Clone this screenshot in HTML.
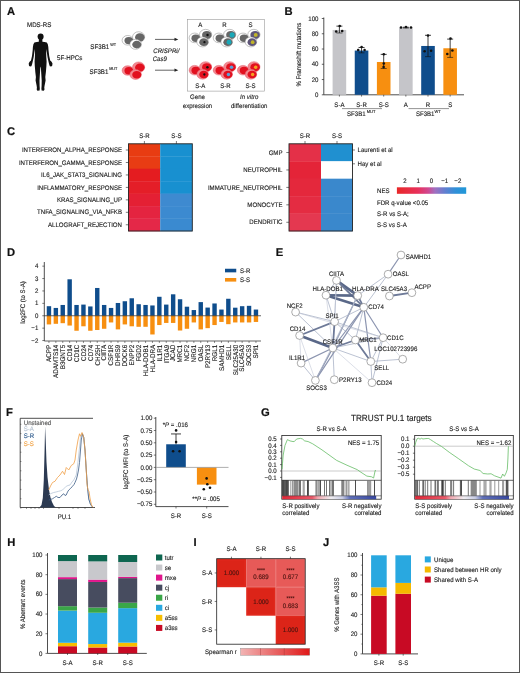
<!DOCTYPE html>
<html><head><meta charset="utf-8"><style>
html,body{margin:0;padding:0;background:#fff;}
body{width:520px;height:673px;overflow:hidden;}
svg{display:block;will-change:transform;}
text{font-family:"Liberation Sans", sans-serif;text-rendering:geometricPrecision;}
</style></head><body>
<svg width="520" height="673" viewBox="0 0 520 673" font-family='"Liberation Sans", sans-serif'>
<rect x="0" y="0" width="520" height="673" fill="#fff"/>
<text x="7.00" y="14.50"  font-size="11.20" text-anchor="start" fill="#111" stroke="#111" stroke-width="0.2" font-weight="bold" font-style="normal" >A</text>
<text x="0.00" y="0.00" transform="translate(39.20,27.00) scale(0.925,1)" font-size="6.70" text-anchor="middle" fill="#222" stroke="#222" stroke-width="0.13" font-weight="normal" font-style="normal" >MDS-RS</text>
<g fill="#111">
<ellipse cx="40.6" cy="36.6" rx="3.0" ry="3.2"/>
<path d="M42.30,39.00 L42.40,41.80 L44.50,42.10 L46.80,42.40 L47.80,44.20 L48.30,47.00 L48.50,50.00 L49.20,56.00 L50.20,60.50 L51.60,61.80 L52.50,63.60 L52.20,65.80 L51.20,66.50 L49.80,66.20 L49.20,64.50 L48.70,62.50 L47.50,57.00 L46.80,52.00 L46.40,49.00 L46.20,53.00 L46.30,57.00 L46.60,61.50 L46.40,66.00 L45.90,72.00 L45.30,77.00 L45.60,80.50 L44.60,85.60 L44.30,87.50 L44.50,89.60 L43.80,90.70 L41.60,90.60 L41.40,88.50 L41.60,86.00 L41.70,80.50 L41.30,74.00 L40.90,68.00 L40.60,66.40 L40.30,68.00 L39.90,74.00 L39.50,80.50 L39.60,86.00 L39.80,88.50 L39.60,90.60 L37.40,90.70 L36.70,89.60 L36.90,87.50 L36.60,85.60 L35.60,80.50 L35.90,77.00 L35.30,72.00 L34.80,66.00 L34.60,61.50 L34.90,57.00 L35.00,53.00 L34.80,49.00 L34.40,52.00 L33.70,57.00 L32.50,62.50 L32.00,64.50 L31.40,66.20 L30.00,66.50 L29.00,65.80 L28.70,63.60 L29.60,61.80 L31.00,60.50 L32.00,56.00 L32.70,50.00 L32.90,47.00 L33.40,44.20 L34.40,42.40 L36.70,42.10 L38.80,41.80 L38.90,39.00 Z"/>
</g>
<text x="0.00" y="0.00" transform="translate(57.00,60.00) scale(0.925,1)" font-size="6.70" text-anchor="start" fill="#222" stroke="#222" stroke-width="0.13" font-weight="normal" font-style="normal" >5F-HPCs</text>
<text x="0.00" y="0.00" transform="translate(90.30,49.30) scale(0.925,1)" font-size="6.70" text-anchor="start" fill="#222" stroke="#222" stroke-width="0.13" font-weight="normal" font-style="normal" >SF3B1</text>
<text x="0.00" y="0.00" transform="translate(110.30,45.60) scale(0.925,1)" font-size="4.10" text-anchor="start" fill="#222" stroke="#222" stroke-width="0.13" font-weight="normal" font-style="normal" >WT</text>
<text x="0.00" y="0.00" transform="translate(89.50,73.60) scale(0.925,1)" font-size="6.70" text-anchor="start" fill="#222" stroke="#222" stroke-width="0.13" font-weight="normal" font-style="normal" >SF3B1</text>
<text x="0.00" y="0.00" transform="translate(109.20,69.60) scale(0.925,1)" font-size="4.10" text-anchor="start" fill="#222" stroke="#222" stroke-width="0.13" font-weight="normal" font-style="normal" >MUT</text>
<ellipse cx="127.70" cy="40.30" rx="5.60" ry="4.82" fill="#ffffff" stroke="#777777" stroke-width="0.45"/>
<ellipse cx="128.82" cy="40.58" rx="4.37" ry="3.70" fill="#666666"/>
<ellipse cx="138.60" cy="37.00" rx="6.10" ry="5.25" fill="#ffffff" stroke="#777777" stroke-width="0.45"/>
<ellipse cx="139.82" cy="37.30" rx="4.76" ry="4.03" fill="#666666"/>
<ellipse cx="135.60" cy="44.30" rx="5.80" ry="4.99" fill="#ffffff" stroke="#777777" stroke-width="0.45"/>
<ellipse cx="136.76" cy="44.59" rx="4.52" ry="3.83" fill="#666666"/>
<ellipse cx="127.70" cy="70.50" rx="5.60" ry="4.82" fill="#f28890" stroke="#e05060" stroke-width="0.45"/>
<ellipse cx="128.82" cy="70.78" rx="4.37" ry="3.70" fill="#e2101f"/>
<ellipse cx="138.60" cy="67.20" rx="6.10" ry="5.25" fill="#f28890" stroke="#e05060" stroke-width="0.45"/>
<ellipse cx="139.82" cy="67.51" rx="4.76" ry="4.03" fill="#e2101f"/>
<ellipse cx="135.60" cy="74.50" rx="5.80" ry="4.99" fill="#f28890" stroke="#e05060" stroke-width="0.45"/>
<ellipse cx="136.76" cy="74.79" rx="4.52" ry="3.83" fill="#e2101f"/>
<line x1="155.00" y1="39.40" x2="176.00" y2="39.40" stroke="#222" stroke-width="0.7" />
<path d="M178.3,39.4 L174.5,37.8 L174.5,41 Z" fill="#222"/>
<line x1="155.00" y1="70.20" x2="176.00" y2="70.20" stroke="#222" stroke-width="0.7" />
<path d="M178.3,70.2 L174.5,68.6 L174.5,71.8 Z" fill="#222"/>
<text x="0.00" y="0.00" transform="translate(153.30,53.00) scale(0.925,1)" font-size="6.59" text-anchor="start" fill="#222" stroke="#222" stroke-width="0.13" font-weight="normal" font-style="italic" >CRISPRi/</text>
<text x="0.00" y="0.00" transform="translate(152.70,60.60) scale(0.925,1)" font-size="6.59" text-anchor="start" fill="#222" stroke="#222" stroke-width="0.13" font-weight="normal" font-style="italic" >Cas9</text>
<rect x="187.3" y="19.3" width="77" height="71.8" fill="none" stroke="#999" stroke-width="0.6"/>
<text x="0.00" y="0.00" transform="translate(200.30,26.80) scale(0.925,1)" font-size="6.59" text-anchor="middle" fill="#222" stroke="#222" stroke-width="0.13" font-weight="normal" font-style="normal" >A</text>
<text x="0.00" y="0.00" transform="translate(224.50,26.80) scale(0.925,1)" font-size="6.59" text-anchor="middle" fill="#222" stroke="#222" stroke-width="0.13" font-weight="normal" font-style="normal" >R</text>
<text x="0.00" y="0.00" transform="translate(250.50,26.80) scale(0.925,1)" font-size="6.59" text-anchor="middle" fill="#222" stroke="#222" stroke-width="0.13" font-weight="normal" font-style="normal" >S</text>
<ellipse cx="194.70" cy="37.90" rx="5.60" ry="4.82" fill="#ffffff" stroke="#777777" stroke-width="0.45"/>
<ellipse cx="195.82" cy="38.18" rx="4.37" ry="3.70" fill="#666666"/>
<ellipse cx="205.60" cy="34.60" rx="6.10" ry="5.25" fill="#ffffff" stroke="#777777" stroke-width="0.45"/>
<ellipse cx="206.82" cy="34.91" rx="4.76" ry="4.03" fill="#666666"/>
<circle cx="207.55" cy="34.91" r="1.22" fill="#111" stroke="none" stroke-width="0.6" />
<ellipse cx="202.60" cy="41.90" rx="5.80" ry="4.99" fill="#ffffff" stroke="#777777" stroke-width="0.45"/>
<ellipse cx="203.76" cy="42.19" rx="4.52" ry="3.83" fill="#666666"/>
<circle cx="204.46" cy="42.19" r="1.16" fill="#111" stroke="none" stroke-width="0.6" />
<ellipse cx="218.80" cy="37.90" rx="5.60" ry="4.82" fill="#ffffff" stroke="#777777" stroke-width="0.45"/>
<ellipse cx="219.92" cy="38.18" rx="4.37" ry="3.70" fill="#666666"/>
<ellipse cx="229.70" cy="34.60" rx="6.10" ry="5.25" fill="#ffffff" stroke="#777777" stroke-width="0.45"/>
<ellipse cx="230.92" cy="34.91" rx="4.76" ry="4.03" fill="#666666"/>
<circle cx="232.14" cy="34.91" r="2.56" fill="#1aa8b8" stroke="none" stroke-width="0.6" />
<ellipse cx="226.70" cy="41.90" rx="5.80" ry="4.99" fill="#ffffff" stroke="#777777" stroke-width="0.45"/>
<ellipse cx="227.86" cy="42.19" rx="4.52" ry="3.83" fill="#666666"/>
<circle cx="229.02" cy="42.19" r="2.44" fill="#1aa8b8" stroke="none" stroke-width="0.6" />
<ellipse cx="243.00" cy="37.90" rx="5.60" ry="4.82" fill="#ffffff" stroke="#777777" stroke-width="0.45"/>
<ellipse cx="244.12" cy="38.18" rx="4.37" ry="3.70" fill="#666666"/>
<ellipse cx="253.90" cy="34.60" rx="6.10" ry="5.25" fill="#ffffff" stroke="#777777" stroke-width="0.45"/>
<ellipse cx="255.12" cy="34.91" rx="4.76" ry="4.03" fill="#5e5578"/>
<circle cx="255.73" cy="34.91" r="1.95" fill="#c0b428" stroke="none" stroke-width="0.6" />
<ellipse cx="250.90" cy="41.90" rx="5.80" ry="4.99" fill="#ffffff" stroke="#777777" stroke-width="0.45"/>
<ellipse cx="252.06" cy="42.19" rx="4.52" ry="3.83" fill="#5e5578"/>
<circle cx="252.64" cy="42.19" r="1.86" fill="#c0b428" stroke="none" stroke-width="0.6" />
<ellipse cx="194.70" cy="70.20" rx="5.60" ry="4.82" fill="#f28890" stroke="#e05060" stroke-width="0.45"/>
<ellipse cx="195.82" cy="70.48" rx="4.37" ry="3.70" fill="#e2101f"/>
<ellipse cx="205.60" cy="66.90" rx="6.10" ry="5.25" fill="#f28890" stroke="#e05060" stroke-width="0.45"/>
<ellipse cx="206.82" cy="67.21" rx="4.76" ry="4.03" fill="#e2101f"/>
<circle cx="207.43" cy="67.21" r="1.22" fill="#111" stroke="none" stroke-width="0.6" />
<ellipse cx="202.60" cy="74.20" rx="5.80" ry="4.99" fill="#f28890" stroke="#e05060" stroke-width="0.45"/>
<ellipse cx="203.76" cy="74.49" rx="4.52" ry="3.83" fill="#e2101f"/>
<circle cx="204.34" cy="74.49" r="1.16" fill="#111" stroke="none" stroke-width="0.6" />
<ellipse cx="218.80" cy="70.20" rx="5.60" ry="4.82" fill="#f28890" stroke="#e05060" stroke-width="0.45"/>
<ellipse cx="219.92" cy="70.48" rx="4.37" ry="3.70" fill="#e2101f"/>
<ellipse cx="229.70" cy="66.90" rx="6.10" ry="5.25" fill="#f28890" stroke="#e05060" stroke-width="0.45"/>
<ellipse cx="230.92" cy="67.21" rx="4.76" ry="4.03" fill="#e2101f"/>
<circle cx="231.53" cy="67.21" r="1.83" fill="#5aa0d8" stroke="none" stroke-width="0.6" />
<ellipse cx="226.70" cy="74.20" rx="5.80" ry="4.99" fill="#f28890" stroke="#e05060" stroke-width="0.45"/>
<ellipse cx="227.86" cy="74.49" rx="4.52" ry="3.83" fill="#e2101f"/>
<circle cx="228.44" cy="74.49" r="1.74" fill="#5aa0d8" stroke="none" stroke-width="0.6" />
<ellipse cx="243.00" cy="70.20" rx="5.60" ry="4.82" fill="#f28890" stroke="#e05060" stroke-width="0.45"/>
<ellipse cx="244.12" cy="70.48" rx="4.37" ry="3.70" fill="#e2101f"/>
<ellipse cx="253.90" cy="66.90" rx="6.10" ry="5.25" fill="#f28890" stroke="#e05060" stroke-width="0.45"/>
<ellipse cx="255.12" cy="67.21" rx="4.76" ry="4.03" fill="#e2101f"/>
<circle cx="255.73" cy="67.21" r="1.83" fill="#f5a020" stroke="none" stroke-width="0.6" />
<ellipse cx="250.90" cy="74.20" rx="5.80" ry="4.99" fill="#f28890" stroke="#e05060" stroke-width="0.45"/>
<ellipse cx="252.06" cy="74.49" rx="4.52" ry="3.83" fill="#e2101f"/>
<circle cx="252.64" cy="74.49" r="1.74" fill="#f5a020" stroke="none" stroke-width="0.6" />
<text x="0.00" y="0.00" transform="translate(200.30,87.70) scale(0.925,1)" font-size="6.59" text-anchor="middle" fill="#222" stroke="#222" stroke-width="0.13" font-weight="normal" font-style="normal" >S-A</text>
<text x="0.00" y="0.00" transform="translate(225.40,87.70) scale(0.925,1)" font-size="6.59" text-anchor="middle" fill="#222" stroke="#222" stroke-width="0.13" font-weight="normal" font-style="normal" >S-R</text>
<text x="0.00" y="0.00" transform="translate(250.50,87.70) scale(0.925,1)" font-size="6.59" text-anchor="middle" fill="#222" stroke="#222" stroke-width="0.13" font-weight="normal" font-style="normal" >S-S</text>
<text x="0.00" y="0.00" transform="translate(197.50,99.40) scale(0.925,1)" font-size="6.59" text-anchor="middle" fill="#222" stroke="#222" stroke-width="0.13" font-weight="normal" font-style="normal" >Gene</text>
<text x="0.00" y="0.00" transform="translate(197.50,107.60) scale(0.925,1)" font-size="6.59" text-anchor="middle" fill="#222" stroke="#222" stroke-width="0.13" font-weight="normal" font-style="normal" >expression</text>
<text x="0.00" y="0.00" transform="translate(249.20,99.40) scale(0.925,1)" font-size="6.59" text-anchor="middle" fill="#222" stroke="#222" stroke-width="0.13" font-weight="normal" font-style="italic" >In vitro</text>
<text x="0.00" y="0.00" transform="translate(249.20,107.60) scale(0.925,1)" font-size="6.59" text-anchor="middle" fill="#222" stroke="#222" stroke-width="0.13" font-weight="normal" font-style="normal" >differentiation</text>
<text x="284.60" y="14.50"  font-size="11.20" text-anchor="start" fill="#111" stroke="#111" stroke-width="0.2" font-weight="bold" font-style="normal" >B</text>
<line x1="323.80" y1="17.50" x2="323.80" y2="94.80" stroke="#222" stroke-width="0.8" />
<line x1="321.80" y1="94.80" x2="323.80" y2="94.80" stroke="#222" stroke-width="0.7" />
<text x="0.00" y="0.00" transform="translate(318.50,96.90) scale(0.925,1)" font-size="6.59" text-anchor="end" fill="#222" stroke="#222" stroke-width="0.13" font-weight="normal" font-style="normal" >0</text>
<line x1="321.80" y1="79.54" x2="323.80" y2="79.54" stroke="#222" stroke-width="0.7" />
<text x="0.00" y="0.00" transform="translate(318.50,81.64) scale(0.925,1)" font-size="6.59" text-anchor="end" fill="#222" stroke="#222" stroke-width="0.13" font-weight="normal" font-style="normal" >20</text>
<line x1="321.80" y1="64.28" x2="323.80" y2="64.28" stroke="#222" stroke-width="0.7" />
<text x="0.00" y="0.00" transform="translate(318.50,66.38) scale(0.925,1)" font-size="6.59" text-anchor="end" fill="#222" stroke="#222" stroke-width="0.13" font-weight="normal" font-style="normal" >40</text>
<line x1="321.80" y1="49.02" x2="323.80" y2="49.02" stroke="#222" stroke-width="0.7" />
<text x="0.00" y="0.00" transform="translate(318.50,51.12) scale(0.925,1)" font-size="6.59" text-anchor="end" fill="#222" stroke="#222" stroke-width="0.13" font-weight="normal" font-style="normal" >60</text>
<line x1="321.80" y1="33.76" x2="323.80" y2="33.76" stroke="#222" stroke-width="0.7" />
<text x="0.00" y="0.00" transform="translate(318.50,35.86) scale(0.925,1)" font-size="6.59" text-anchor="end" fill="#222" stroke="#222" stroke-width="0.13" font-weight="normal" font-style="normal" >80</text>
<line x1="321.80" y1="18.50" x2="323.80" y2="18.50" stroke="#222" stroke-width="0.7" />
<text x="0.00" y="0.00" transform="translate(318.50,20.60) scale(0.925,1)" font-size="6.59" text-anchor="end" fill="#222" stroke="#222" stroke-width="0.13" font-weight="normal" font-style="normal" >100</text>
<line x1="323.80" y1="94.80" x2="464.00" y2="94.80" stroke="#222" stroke-width="0.8" />
<text x="0.00" y="0.00"  font-size="6.59" text-anchor="middle" fill="#222" stroke="#222" stroke-width="0.13" font-weight="normal" font-style="normal" transform="translate(300.8,54.6) rotate(-90) scale(0.925,1)">% Frameshift mutations</text>
<rect x="332.60" y="29.94" width="13.60" height="64.86" fill="#c5c5c9" />
<line x1="339.40" y1="33.00" x2="339.40" y2="26.13" stroke="#111" stroke-width="0.8" />
<line x1="336.40" y1="26.13" x2="342.40" y2="26.13" stroke="#111" stroke-width="0.8" />
<line x1="336.40" y1="33.00" x2="342.40" y2="33.00" stroke="#111" stroke-width="0.6" />
<circle cx="336.20" cy="31.50" r="1.30" fill="#111" stroke="none" stroke-width="0.6" />
<circle cx="342.20" cy="31.00" r="1.30" fill="#111" stroke="none" stroke-width="0.6" />
<circle cx="339.70" cy="26.00" r="1.30" fill="#111" stroke="none" stroke-width="0.6" />
<rect x="354.75" y="50.55" width="13.60" height="44.25" fill="#0f4d8c" />
<line x1="361.55" y1="52.83" x2="361.55" y2="47.49" stroke="#111" stroke-width="0.8" />
<line x1="358.55" y1="47.49" x2="364.55" y2="47.49" stroke="#111" stroke-width="0.8" />
<line x1="358.55" y1="52.83" x2="364.55" y2="52.83" stroke="#111" stroke-width="0.6" />
<circle cx="358.20" cy="50.00" r="1.30" fill="#111" stroke="none" stroke-width="0.6" />
<circle cx="364.60" cy="50.00" r="1.30" fill="#111" stroke="none" stroke-width="0.6" />
<circle cx="361.60" cy="47.00" r="1.30" fill="#111" stroke="none" stroke-width="0.6" />
<rect x="376.90" y="61.99" width="13.60" height="32.81" fill="#f78f10" />
<line x1="383.70" y1="68.48" x2="383.70" y2="54.36" stroke="#111" stroke-width="0.8" />
<line x1="380.70" y1="54.36" x2="386.70" y2="54.36" stroke="#111" stroke-width="0.8" />
<line x1="380.70" y1="68.48" x2="386.70" y2="68.48" stroke="#111" stroke-width="0.6" />
<circle cx="383.80" cy="54.20" r="1.30" fill="#111" stroke="none" stroke-width="0.6" />
<circle cx="383.80" cy="63.50" r="1.30" fill="#111" stroke="none" stroke-width="0.6" />
<circle cx="383.60" cy="67.00" r="1.30" fill="#111" stroke="none" stroke-width="0.6" />
<rect x="399.05" y="27.66" width="13.60" height="67.14" fill="#c5c5c9" />
<line x1="405.85" y1="28.04" x2="405.85" y2="27.27" stroke="#111" stroke-width="0.8" />
<line x1="402.85" y1="27.27" x2="408.85" y2="27.27" stroke="#111" stroke-width="0.8" />
<line x1="402.85" y1="28.04" x2="408.85" y2="28.04" stroke="#111" stroke-width="0.6" />
<circle cx="401.00" cy="27.50" r="1.30" fill="#111" stroke="none" stroke-width="0.6" />
<circle cx="406.00" cy="27.00" r="1.30" fill="#111" stroke="none" stroke-width="0.6" />
<circle cx="411.00" cy="27.50" r="1.30" fill="#111" stroke="none" stroke-width="0.6" />
<rect x="421.20" y="45.97" width="13.60" height="48.83" fill="#0f4d8c" />
<line x1="428.00" y1="56.65" x2="428.00" y2="35.29" stroke="#111" stroke-width="0.8" />
<line x1="425.00" y1="35.29" x2="431.00" y2="35.29" stroke="#111" stroke-width="0.8" />
<line x1="425.00" y1="56.65" x2="431.00" y2="56.65" stroke="#111" stroke-width="0.6" />
<circle cx="424.60" cy="51.20" r="1.30" fill="#111" stroke="none" stroke-width="0.6" />
<circle cx="431.10" cy="50.70" r="1.30" fill="#111" stroke="none" stroke-width="0.6" />
<circle cx="428.00" cy="35.50" r="1.30" fill="#111" stroke="none" stroke-width="0.6" />
<rect x="443.35" y="48.26" width="13.60" height="46.54" fill="#f78f10" />
<line x1="450.15" y1="57.41" x2="450.15" y2="39.10" stroke="#111" stroke-width="0.8" />
<line x1="447.15" y1="39.10" x2="453.15" y2="39.10" stroke="#111" stroke-width="0.8" />
<line x1="447.15" y1="57.41" x2="453.15" y2="57.41" stroke="#111" stroke-width="0.6" />
<circle cx="447.30" cy="54.00" r="1.30" fill="#111" stroke="none" stroke-width="0.6" />
<circle cx="452.40" cy="50.50" r="1.30" fill="#111" stroke="none" stroke-width="0.6" />
<circle cx="450.50" cy="38.50" r="1.30" fill="#111" stroke="none" stroke-width="0.6" />
<line x1="339.40" y1="94.80" x2="339.40" y2="96.60" stroke="#222" stroke-width="0.6" />
<text x="0.00" y="0.00" transform="translate(339.40,106.50) scale(0.925,1)" font-size="6.59" text-anchor="middle" fill="#222" stroke="#222" stroke-width="0.13" font-weight="normal" font-style="normal" >S-A</text>
<line x1="361.55" y1="94.80" x2="361.55" y2="96.60" stroke="#222" stroke-width="0.6" />
<text x="0.00" y="0.00" transform="translate(361.55,106.50) scale(0.925,1)" font-size="6.59" text-anchor="middle" fill="#222" stroke="#222" stroke-width="0.13" font-weight="normal" font-style="normal" >S-R</text>
<line x1="383.70" y1="94.80" x2="383.70" y2="96.60" stroke="#222" stroke-width="0.6" />
<text x="0.00" y="0.00" transform="translate(383.70,106.50) scale(0.925,1)" font-size="6.59" text-anchor="middle" fill="#222" stroke="#222" stroke-width="0.13" font-weight="normal" font-style="normal" >S-S</text>
<line x1="405.85" y1="94.80" x2="405.85" y2="96.60" stroke="#222" stroke-width="0.6" />
<text x="0.00" y="0.00" transform="translate(405.85,106.50) scale(0.925,1)" font-size="6.59" text-anchor="middle" fill="#222" stroke="#222" stroke-width="0.13" font-weight="normal" font-style="normal" >A</text>
<line x1="428.00" y1="94.80" x2="428.00" y2="96.60" stroke="#222" stroke-width="0.6" />
<text x="0.00" y="0.00" transform="translate(428.00,106.50) scale(0.925,1)" font-size="6.59" text-anchor="middle" fill="#222" stroke="#222" stroke-width="0.13" font-weight="normal" font-style="normal" >R</text>
<line x1="450.15" y1="94.80" x2="450.15" y2="96.60" stroke="#222" stroke-width="0.6" />
<text x="0.00" y="0.00" transform="translate(450.15,106.50) scale(0.925,1)" font-size="6.59" text-anchor="middle" fill="#222" stroke="#222" stroke-width="0.13" font-weight="normal" font-style="normal" >S</text>
<line x1="342.00" y1="108.60" x2="382.00" y2="108.60" stroke="#888" stroke-width="0.9" />
<line x1="408.50" y1="108.60" x2="449.00" y2="108.60" stroke="#888" stroke-width="0.9" />
<text x="0.00" y="0.00" transform="translate(347.00,116.30) scale(0.925,1)" font-size="6.59" text-anchor="start" fill="#222" stroke="#222" stroke-width="0.13" font-weight="normal" font-style="normal" >SF3B1</text>
<text x="0.00" y="0.00" transform="translate(366.80,113.40) scale(0.925,1)" font-size="4.32" text-anchor="start" fill="#222" stroke="#222" stroke-width="0.13" font-weight="normal" font-style="normal" >MUT</text>
<text x="0.00" y="0.00" transform="translate(415.90,116.30) scale(0.925,1)" font-size="6.59" text-anchor="start" fill="#222" stroke="#222" stroke-width="0.13" font-weight="normal" font-style="normal" >SF3B1</text>
<text x="0.00" y="0.00" transform="translate(434.40,113.40) scale(0.925,1)" font-size="4.32" text-anchor="start" fill="#222" stroke="#222" stroke-width="0.13" font-weight="normal" font-style="normal" >WT</text>
<text x="7.00" y="134.50"  font-size="11.20" text-anchor="start" fill="#111" stroke="#111" stroke-width="0.2" font-weight="bold" font-style="normal" >C</text>
<rect x="128.50" y="143.80" width="31.70" height="12.76" fill="#e83c12" />
<rect x="160.20" y="143.80" width="32.10" height="12.76" fill="#1890d0" />
<line x1="125.80" y1="150.03" x2="128.50" y2="150.03" stroke="#222" stroke-width="0.6" />
<text x="0.00" y="0.00" transform="translate(122.00,152.13) scale(0.925,1)" font-size="6.59" text-anchor="end" fill="#222" stroke="#222" stroke-width="0.13" font-weight="normal" font-style="normal" >INTERFERON_ALPHA_RESPONSE</text>
<rect x="128.50" y="156.26" width="31.70" height="12.76" fill="#e83c14" />
<rect x="160.20" y="156.26" width="32.10" height="12.76" fill="#1890d0" />
<line x1="125.80" y1="162.49" x2="128.50" y2="162.49" stroke="#222" stroke-width="0.6" />
<text x="0.00" y="0.00" transform="translate(122.00,164.59) scale(0.925,1)" font-size="6.59" text-anchor="end" fill="#222" stroke="#222" stroke-width="0.13" font-weight="normal" font-style="normal" >INTERFERON_GAMMA_RESPONSE</text>
<rect x="128.50" y="168.71" width="31.70" height="12.76" fill="#e41c20" />
<rect x="160.20" y="168.71" width="32.10" height="12.76" fill="#1890d0" />
<line x1="125.80" y1="174.94" x2="128.50" y2="174.94" stroke="#222" stroke-width="0.6" />
<text x="0.00" y="0.00" transform="translate(122.00,177.04) scale(0.925,1)" font-size="6.59" text-anchor="end" fill="#222" stroke="#222" stroke-width="0.13" font-weight="normal" font-style="normal" >IL6_JAK_STAT3_SIGNALING</text>
<rect x="128.50" y="181.17" width="31.70" height="12.76" fill="#e41e28" />
<rect x="160.20" y="181.17" width="32.10" height="12.76" fill="#1890d0" />
<line x1="125.80" y1="187.40" x2="128.50" y2="187.40" stroke="#222" stroke-width="0.6" />
<text x="0.00" y="0.00" transform="translate(122.00,189.50) scale(0.925,1)" font-size="6.59" text-anchor="end" fill="#222" stroke="#222" stroke-width="0.13" font-weight="normal" font-style="normal" >INFLAMMATORY_RESPONSE</text>
<rect x="128.50" y="193.63" width="31.70" height="12.76" fill="#e42034" />
<rect x="160.20" y="193.63" width="32.10" height="12.76" fill="#3e8ad0" />
<line x1="125.80" y1="199.86" x2="128.50" y2="199.86" stroke="#222" stroke-width="0.6" />
<text x="0.00" y="0.00" transform="translate(122.00,201.96) scale(0.925,1)" font-size="6.59" text-anchor="end" fill="#222" stroke="#222" stroke-width="0.13" font-weight="normal" font-style="normal" >KRAS_SIGNALING_UP</text>
<rect x="128.50" y="206.09" width="31.70" height="12.76" fill="#e42440" />
<rect x="160.20" y="206.09" width="32.10" height="12.76" fill="#3c8ad0" />
<line x1="125.80" y1="212.31" x2="128.50" y2="212.31" stroke="#222" stroke-width="0.6" />
<text x="0.00" y="0.00" transform="translate(122.00,214.41) scale(0.925,1)" font-size="6.59" text-anchor="end" fill="#222" stroke="#222" stroke-width="0.13" font-weight="normal" font-style="normal" >TNFA_SIGNALING_VIA_NFKB</text>
<rect x="128.50" y="218.54" width="31.70" height="12.76" fill="#e42848" />
<rect x="160.20" y="218.54" width="32.10" height="12.76" fill="#3a8ad0" />
<line x1="125.80" y1="224.77" x2="128.50" y2="224.77" stroke="#222" stroke-width="0.6" />
<text x="0.00" y="0.00" transform="translate(122.00,226.87) scale(0.925,1)" font-size="6.59" text-anchor="end" fill="#222" stroke="#222" stroke-width="0.13" font-weight="normal" font-style="normal" >ALLOGRAFT_REJECTION</text>
<rect x="128.5" y="143.8" width="63.80000000000001" height="87.19999999999999" fill="none" stroke="#222" stroke-width="0.9"/>
<line x1="144.40" y1="141.00" x2="144.40" y2="143.80" stroke="#222" stroke-width="0.6" />
<text x="0.00" y="0.00" transform="translate(144.40,137.80) scale(0.925,1)" font-size="6.59" text-anchor="middle" fill="#222" stroke="#222" stroke-width="0.13" font-weight="normal" font-style="normal" >S-R</text>
<line x1="176.40" y1="141.00" x2="176.40" y2="143.80" stroke="#222" stroke-width="0.6" />
<text x="0.00" y="0.00" transform="translate(176.40,137.80) scale(0.925,1)" font-size="6.59" text-anchor="middle" fill="#222" stroke="#222" stroke-width="0.13" font-weight="normal" font-style="normal" >S-S</text>
<rect x="289.00" y="143.80" width="32.00" height="17.74" fill="#e43048" />
<rect x="321.00" y="143.80" width="31.50" height="17.74" fill="#2090d0" />
<line x1="286.30" y1="152.52" x2="289.00" y2="152.52" stroke="#222" stroke-width="0.6" />
<text x="0.00" y="0.00" transform="translate(282.50,154.62) scale(0.925,1)" font-size="6.59" text-anchor="end" fill="#222" stroke="#222" stroke-width="0.13" font-weight="normal" font-style="normal" >GMP</text>
<rect x="289.00" y="161.24" width="32.00" height="17.74" fill="#e42438" />
<rect x="321.00" y="161.24" width="31.50" height="17.74" fill="#ffffff" />
<line x1="286.30" y1="169.96" x2="289.00" y2="169.96" stroke="#222" stroke-width="0.6" />
<text x="0.00" y="0.00" transform="translate(282.50,172.06) scale(0.925,1)" font-size="6.59" text-anchor="end" fill="#222" stroke="#222" stroke-width="0.13" font-weight="normal" font-style="normal" >NEUTROPHIL</text>
<rect x="289.00" y="178.68" width="32.00" height="17.74" fill="#e4283c" />
<rect x="321.00" y="178.68" width="31.50" height="17.74" fill="#3a88cc" />
<line x1="286.30" y1="187.40" x2="289.00" y2="187.40" stroke="#222" stroke-width="0.6" />
<text x="0.00" y="0.00" transform="translate(282.50,189.50) scale(0.925,1)" font-size="6.59" text-anchor="end" fill="#222" stroke="#222" stroke-width="0.13" font-weight="normal" font-style="normal" >IMMATURE_NEUTROPHIL</text>
<rect x="289.00" y="196.12" width="32.00" height="17.74" fill="#e42c42" />
<rect x="321.00" y="196.12" width="31.50" height="17.74" fill="#3a88cc" />
<line x1="286.30" y1="204.84" x2="289.00" y2="204.84" stroke="#222" stroke-width="0.6" />
<text x="0.00" y="0.00" transform="translate(282.50,206.94) scale(0.925,1)" font-size="6.59" text-anchor="end" fill="#222" stroke="#222" stroke-width="0.13" font-weight="normal" font-style="normal" >MONOCYTE</text>
<rect x="289.00" y="213.56" width="32.00" height="17.74" fill="#e43850" />
<rect x="321.00" y="213.56" width="31.50" height="17.74" fill="#3a88cc" />
<line x1="286.30" y1="222.28" x2="289.00" y2="222.28" stroke="#222" stroke-width="0.6" />
<text x="0.00" y="0.00" transform="translate(282.50,224.38) scale(0.925,1)" font-size="6.59" text-anchor="end" fill="#222" stroke="#222" stroke-width="0.13" font-weight="normal" font-style="normal" >DENDRITIC</text>
<rect x="289" y="143.8" width="63.5" height="87.19999999999999" fill="none" stroke="#222" stroke-width="0.9"/>
<line x1="305.00" y1="141.00" x2="305.00" y2="143.80" stroke="#222" stroke-width="0.6" />
<text x="0.00" y="0.00" transform="translate(305.00,137.80) scale(0.925,1)" font-size="6.59" text-anchor="middle" fill="#222" stroke="#222" stroke-width="0.13" font-weight="normal" font-style="normal" >S-R</text>
<line x1="337.00" y1="141.00" x2="337.00" y2="143.80" stroke="#222" stroke-width="0.6" />
<text x="0.00" y="0.00" transform="translate(337.00,137.80) scale(0.925,1)" font-size="6.59" text-anchor="middle" fill="#222" stroke="#222" stroke-width="0.13" font-weight="normal" font-style="normal" >S-S</text>
<line x1="352.50" y1="150.00" x2="355.00" y2="150.00" stroke="#222" stroke-width="0.6" />
<text x="0.00" y="0.00" transform="translate(357.50,152.20) scale(0.925,1)" font-size="6.59" text-anchor="start" fill="#222" stroke="#222" stroke-width="0.13" font-weight="normal" font-style="normal" >Laurenti et al</text>
<line x1="352.50" y1="163.80" x2="355.00" y2="163.80" stroke="#222" stroke-width="0.6" />
<text x="0.00" y="0.00" transform="translate(357.50,166.00) scale(0.925,1)" font-size="6.59" text-anchor="start" fill="#222" stroke="#222" stroke-width="0.13" font-weight="normal" font-style="normal" >Hay et al</text>
<defs><linearGradient id="nes" x1="0" x2="1" y1="0" y2="0"><stop offset="0" stop-color="#e82828"/><stop offset="0.3" stop-color="#e8305a"/><stop offset="0.45" stop-color="#d04890"/><stop offset="0.55" stop-color="#a070c0"/><stop offset="0.7" stop-color="#6080d0"/><stop offset="0.85" stop-color="#3090d8"/><stop offset="1" stop-color="#2098d8"/></linearGradient></defs>
<rect x="396.90" y="187.30" width="69.30" height="6.50" fill="url(#nes)" />
<text x="0.00" y="0.00" transform="translate(405.00,183.00) scale(0.925,1)" font-size="6.59" text-anchor="middle" fill="#222" stroke="#222" stroke-width="0.13" font-weight="normal" font-style="normal" >2</text>
<text x="0.00" y="0.00" transform="translate(418.20,183.00) scale(0.925,1)" font-size="6.59" text-anchor="middle" fill="#222" stroke="#222" stroke-width="0.13" font-weight="normal" font-style="normal" >1</text>
<text x="0.00" y="0.00" transform="translate(431.40,183.00) scale(0.925,1)" font-size="6.59" text-anchor="middle" fill="#222" stroke="#222" stroke-width="0.13" font-weight="normal" font-style="normal" >0</text>
<text x="0.00" y="0.00" transform="translate(444.60,183.00) scale(0.925,1)" font-size="6.59" text-anchor="middle" fill="#222" stroke="#222" stroke-width="0.13" font-weight="normal" font-style="normal" >−1</text>
<text x="0.00" y="0.00" transform="translate(457.80,183.00) scale(0.925,1)" font-size="6.59" text-anchor="middle" fill="#222" stroke="#222" stroke-width="0.13" font-weight="normal" font-style="normal" >−2</text>
<text x="0.00" y="0.00" transform="translate(377.00,193.20) scale(0.925,1)" font-size="6.59" text-anchor="start" fill="#222" stroke="#222" stroke-width="0.13" font-weight="normal" font-style="normal" >NES</text>
<text x="0.00" y="0.00" transform="translate(377.00,205.00) scale(0.925,1)" font-size="6.59" text-anchor="start" fill="#222" stroke="#222" stroke-width="0.13" font-weight="normal" font-style="normal" >FDR q-value &lt;0.05</text>
<text x="0.00" y="0.00" transform="translate(377.00,216.00) scale(0.925,1)" font-size="6.59" text-anchor="start" fill="#222" stroke="#222" stroke-width="0.13" font-weight="normal" font-style="normal" >S-R vs S-A;</text>
<text x="0.00" y="0.00" transform="translate(377.00,227.00) scale(0.925,1)" font-size="6.59" text-anchor="start" fill="#222" stroke="#222" stroke-width="0.13" font-weight="normal" font-style="normal" >S-S vs S-A</text>
<text x="7.00" y="255.80"  font-size="11.20" text-anchor="start" fill="#111" stroke="#111" stroke-width="0.2" font-weight="bold" font-style="normal" >D</text>
<rect x="46.75" y="306.20" width="4.40" height="9.55" fill="#0f4d8c" />
<rect x="46.75" y="315.75" width="4.40" height="8.68" fill="#f78f10" />
<line x1="48.95" y1="341.00" x2="48.95" y2="343.00" stroke="#222" stroke-width="0.5" />
<text x="0.00" y="0.00"  font-size="6.80" text-anchor="end" fill="#222" stroke="#222" stroke-width="0.13" font-weight="normal" font-style="normal" transform="translate(51.25,344.8) rotate(-90) scale(0.925,1)">ACPP</text>
<rect x="53.65" y="307.94" width="4.40" height="7.81" fill="#0f4d8c" />
<rect x="53.65" y="315.75" width="4.40" height="8.06" fill="#f78f10" />
<line x1="55.85" y1="341.00" x2="55.85" y2="343.00" stroke="#222" stroke-width="0.5" />
<text x="0.00" y="0.00"  font-size="6.80" text-anchor="end" fill="#222" stroke="#222" stroke-width="0.13" font-weight="normal" font-style="normal" transform="translate(58.15,344.8) rotate(-90) scale(0.925,1)">ADAMTS14</text>
<rect x="60.55" y="304.96" width="4.40" height="10.79" fill="#0f4d8c" />
<rect x="60.55" y="315.75" width="4.40" height="7.44" fill="#f78f10" />
<line x1="62.75" y1="341.00" x2="62.75" y2="343.00" stroke="#222" stroke-width="0.5" />
<text x="0.00" y="0.00"  font-size="6.80" text-anchor="end" fill="#222" stroke="#222" stroke-width="0.13" font-weight="normal" font-style="normal" transform="translate(65.05,344.8) rotate(-90) scale(0.925,1)">B3GNT5</text>
<rect x="67.45" y="279.29" width="4.40" height="36.46" fill="#0f4d8c" />
<rect x="67.45" y="315.75" width="4.40" height="9.80" fill="#f78f10" />
<line x1="69.65" y1="341.00" x2="69.65" y2="343.00" stroke="#222" stroke-width="0.5" />
<text x="0.00" y="0.00"  font-size="6.80" text-anchor="end" fill="#222" stroke="#222" stroke-width="0.13" font-weight="normal" font-style="normal" transform="translate(71.95,344.8) rotate(-90) scale(0.925,1)">CD14</text>
<rect x="74.35" y="304.96" width="4.40" height="10.79" fill="#0f4d8c" />
<rect x="74.35" y="315.75" width="4.40" height="15.00" fill="#f78f10" />
<line x1="76.55" y1="341.00" x2="76.55" y2="343.00" stroke="#222" stroke-width="0.5" />
<text x="0.00" y="0.00"  font-size="6.80" text-anchor="end" fill="#222" stroke="#222" stroke-width="0.13" font-weight="normal" font-style="normal" transform="translate(78.85,344.8) rotate(-90) scale(0.925,1)">CD1C</text>
<rect x="81.25" y="304.59" width="4.40" height="11.16" fill="#0f4d8c" />
<rect x="81.25" y="315.75" width="4.40" height="10.54" fill="#f78f10" />
<line x1="83.45" y1="341.00" x2="83.45" y2="343.00" stroke="#222" stroke-width="0.5" />
<text x="0.00" y="0.00"  font-size="6.80" text-anchor="end" fill="#222" stroke="#222" stroke-width="0.13" font-weight="normal" font-style="normal" transform="translate(85.75,344.8) rotate(-90) scale(0.925,1)">CD24</text>
<rect x="88.15" y="306.45" width="4.40" height="9.30" fill="#0f4d8c" />
<rect x="88.15" y="315.75" width="4.40" height="15.00" fill="#f78f10" />
<line x1="90.35" y1="341.00" x2="90.35" y2="343.00" stroke="#222" stroke-width="0.5" />
<text x="0.00" y="0.00"  font-size="6.80" text-anchor="end" fill="#222" stroke="#222" stroke-width="0.13" font-weight="normal" font-style="normal" transform="translate(92.65,344.8) rotate(-90) scale(0.925,1)">CD74</text>
<rect x="95.05" y="287.97" width="4.40" height="27.78" fill="#0f4d8c" />
<rect x="95.05" y="315.75" width="4.40" height="14.26" fill="#f78f10" />
<line x1="97.25" y1="341.00" x2="97.25" y2="343.00" stroke="#222" stroke-width="0.5" />
<text x="0.00" y="0.00"  font-size="6.80" text-anchor="end" fill="#222" stroke="#222" stroke-width="0.13" font-weight="normal" font-style="normal" transform="translate(99.55,344.8) rotate(-90) scale(0.925,1)">CH25H</text>
<rect x="101.95" y="304.96" width="4.40" height="10.79" fill="#0f4d8c" />
<rect x="101.95" y="315.75" width="4.40" height="13.02" fill="#f78f10" />
<line x1="104.15" y1="341.00" x2="104.15" y2="343.00" stroke="#222" stroke-width="0.5" />
<text x="0.00" y="0.00"  font-size="6.80" text-anchor="end" fill="#222" stroke="#222" stroke-width="0.13" font-weight="normal" font-style="normal" transform="translate(106.45,344.8) rotate(-90) scale(0.925,1)">CIITA</text>
<rect x="108.85" y="307.94" width="4.40" height="7.81" fill="#0f4d8c" />
<rect x="108.85" y="315.75" width="4.40" height="6.70" fill="#f78f10" />
<line x1="111.05" y1="341.00" x2="111.05" y2="343.00" stroke="#222" stroke-width="0.5" />
<text x="0.00" y="0.00"  font-size="6.80" text-anchor="end" fill="#222" stroke="#222" stroke-width="0.13" font-weight="normal" font-style="normal" transform="translate(113.35,344.8) rotate(-90) scale(0.925,1)">CSF1R</text>
<rect x="115.75" y="302.98" width="4.40" height="12.77" fill="#0f4d8c" />
<rect x="115.75" y="315.75" width="4.40" height="13.64" fill="#f78f10" />
<line x1="117.95" y1="341.00" x2="117.95" y2="343.00" stroke="#222" stroke-width="0.5" />
<text x="0.00" y="0.00"  font-size="6.80" text-anchor="end" fill="#222" stroke="#222" stroke-width="0.13" font-weight="normal" font-style="normal" transform="translate(120.25,344.8) rotate(-90) scale(0.925,1)">DHRS9</text>
<rect x="122.65" y="301.24" width="4.40" height="14.51" fill="#0f4d8c" />
<rect x="122.65" y="315.75" width="4.40" height="8.68" fill="#f78f10" />
<line x1="124.85" y1="341.00" x2="124.85" y2="343.00" stroke="#222" stroke-width="0.5" />
<text x="0.00" y="0.00"  font-size="6.80" text-anchor="end" fill="#222" stroke="#222" stroke-width="0.13" font-weight="normal" font-style="normal" transform="translate(127.15,344.8) rotate(-90) scale(0.925,1)">DOCK6</text>
<rect x="129.55" y="298.27" width="4.40" height="17.48" fill="#0f4d8c" />
<rect x="129.55" y="315.75" width="4.40" height="10.54" fill="#f78f10" />
<line x1="131.75" y1="341.00" x2="131.75" y2="343.00" stroke="#222" stroke-width="0.5" />
<text x="0.00" y="0.00"  font-size="6.80" text-anchor="end" fill="#222" stroke="#222" stroke-width="0.13" font-weight="normal" font-style="normal" transform="translate(134.05,344.8) rotate(-90) scale(0.925,1)">ENPP2</text>
<rect x="136.45" y="304.22" width="4.40" height="11.53" fill="#0f4d8c" />
<rect x="136.45" y="315.75" width="4.40" height="11.04" fill="#f78f10" />
<line x1="138.65" y1="341.00" x2="138.65" y2="343.00" stroke="#222" stroke-width="0.5" />
<text x="0.00" y="0.00"  font-size="6.80" text-anchor="end" fill="#222" stroke="#222" stroke-width="0.13" font-weight="normal" font-style="normal" transform="translate(140.95,344.8) rotate(-90) scale(0.925,1)">FGD2</text>
<rect x="143.35" y="304.96" width="4.40" height="10.79" fill="#0f4d8c" />
<rect x="143.35" y="315.75" width="4.40" height="11.04" fill="#f78f10" />
<line x1="145.55" y1="341.00" x2="145.55" y2="343.00" stroke="#222" stroke-width="0.5" />
<text x="0.00" y="0.00"  font-size="6.80" text-anchor="end" fill="#222" stroke="#222" stroke-width="0.13" font-weight="normal" font-style="normal" transform="translate(147.85,344.8) rotate(-90) scale(0.925,1)">HLA-DOB1</text>
<rect x="150.25" y="305.46" width="4.40" height="10.29" fill="#0f4d8c" />
<rect x="150.25" y="315.75" width="4.40" height="18.72" fill="#f78f10" />
<line x1="152.45" y1="341.00" x2="152.45" y2="343.00" stroke="#222" stroke-width="0.5" />
<text x="0.00" y="0.00"  font-size="6.80" text-anchor="end" fill="#222" stroke="#222" stroke-width="0.13" font-weight="normal" font-style="normal" transform="translate(154.75,344.8) rotate(-90) scale(0.925,1)">HLA-DRA</text>
<rect x="157.15" y="296.78" width="4.40" height="18.97" fill="#0f4d8c" />
<rect x="157.15" y="315.75" width="4.40" height="9.30" fill="#f78f10" />
<line x1="159.35" y1="341.00" x2="159.35" y2="343.00" stroke="#222" stroke-width="0.5" />
<text x="0.00" y="0.00"  font-size="6.80" text-anchor="end" fill="#222" stroke="#222" stroke-width="0.13" font-weight="normal" font-style="normal" transform="translate(161.65,344.8) rotate(-90) scale(0.925,1)">IL1R1</text>
<rect x="164.05" y="304.59" width="4.40" height="11.16" fill="#0f4d8c" />
<rect x="164.05" y="315.75" width="4.40" height="7.19" fill="#f78f10" />
<line x1="166.25" y1="341.00" x2="166.25" y2="343.00" stroke="#222" stroke-width="0.5" />
<text x="0.00" y="0.00"  font-size="6.80" text-anchor="end" fill="#222" stroke="#222" stroke-width="0.13" font-weight="normal" font-style="normal" transform="translate(168.55,344.8) rotate(-90) scale(0.925,1)">ITGA9</text>
<rect x="170.95" y="294.30" width="4.40" height="21.45" fill="#0f4d8c" />
<rect x="170.95" y="315.75" width="4.40" height="7.19" fill="#f78f10" />
<line x1="173.15" y1="341.00" x2="173.15" y2="343.00" stroke="#222" stroke-width="0.5" />
<text x="0.00" y="0.00"  font-size="6.80" text-anchor="end" fill="#222" stroke="#222" stroke-width="0.13" font-weight="normal" font-style="normal" transform="translate(175.45,344.8) rotate(-90) scale(0.925,1)">JCAD</text>
<rect x="177.85" y="299.26" width="4.40" height="16.49" fill="#0f4d8c" />
<rect x="177.85" y="315.75" width="4.40" height="14.76" fill="#f78f10" />
<line x1="180.05" y1="341.00" x2="180.05" y2="343.00" stroke="#222" stroke-width="0.5" />
<text x="0.00" y="0.00"  font-size="6.80" text-anchor="end" fill="#222" stroke="#222" stroke-width="0.13" font-weight="normal" font-style="normal" transform="translate(182.35,344.8) rotate(-90) scale(0.925,1)">MRC1</text>
<rect x="184.75" y="306.70" width="4.40" height="9.05" fill="#0f4d8c" />
<rect x="184.75" y="315.75" width="4.40" height="13.02" fill="#f78f10" />
<line x1="186.95" y1="341.00" x2="186.95" y2="343.00" stroke="#222" stroke-width="0.5" />
<text x="0.00" y="0.00"  font-size="6.80" text-anchor="end" fill="#222" stroke="#222" stroke-width="0.13" font-weight="normal" font-style="normal" transform="translate(189.25,344.8) rotate(-90) scale(0.925,1)">NCF2</text>
<rect x="191.65" y="310.05" width="4.40" height="5.70" fill="#0f4d8c" />
<rect x="191.65" y="315.75" width="4.40" height="6.70" fill="#f78f10" />
<line x1="193.85" y1="341.00" x2="193.85" y2="343.00" stroke="#222" stroke-width="0.5" />
<text x="0.00" y="0.00"  font-size="6.80" text-anchor="end" fill="#222" stroke="#222" stroke-width="0.13" font-weight="normal" font-style="normal" transform="translate(196.15,344.8) rotate(-90) scale(0.925,1)">NRG1</text>
<rect x="198.55" y="302.11" width="4.40" height="13.64" fill="#0f4d8c" />
<rect x="198.55" y="315.75" width="4.40" height="13.64" fill="#f78f10" />
<line x1="200.75" y1="341.00" x2="200.75" y2="343.00" stroke="#222" stroke-width="0.5" />
<text x="0.00" y="0.00"  font-size="6.80" text-anchor="end" fill="#222" stroke="#222" stroke-width="0.13" font-weight="normal" font-style="normal" transform="translate(203.05,344.8) rotate(-90) scale(0.925,1)">OASL</text>
<rect x="205.45" y="307.57" width="4.40" height="8.18" fill="#0f4d8c" />
<rect x="205.45" y="315.75" width="4.40" height="12.40" fill="#f78f10" />
<line x1="207.65" y1="341.00" x2="207.65" y2="343.00" stroke="#222" stroke-width="0.5" />
<text x="0.00" y="0.00"  font-size="6.80" text-anchor="end" fill="#222" stroke="#222" stroke-width="0.13" font-weight="normal" font-style="normal" transform="translate(209.95,344.8) rotate(-90) scale(0.925,1)">P2RY13</text>
<rect x="212.35" y="303.47" width="4.40" height="12.28" fill="#0f4d8c" />
<rect x="212.35" y="315.75" width="4.40" height="9.30" fill="#f78f10" />
<line x1="214.55" y1="341.00" x2="214.55" y2="343.00" stroke="#222" stroke-width="0.5" />
<text x="0.00" y="0.00"  font-size="6.80" text-anchor="end" fill="#222" stroke="#222" stroke-width="0.13" font-weight="normal" font-style="normal" transform="translate(216.85,344.8) rotate(-90) scale(0.925,1)">RGL1</text>
<rect x="219.25" y="309.55" width="4.40" height="6.20" fill="#0f4d8c" />
<rect x="219.25" y="315.75" width="4.40" height="6.20" fill="#f78f10" />
<line x1="221.45" y1="341.00" x2="221.45" y2="343.00" stroke="#222" stroke-width="0.5" />
<text x="0.00" y="0.00"  font-size="6.80" text-anchor="end" fill="#222" stroke="#222" stroke-width="0.13" font-weight="normal" font-style="normal" transform="translate(223.75,344.8) rotate(-90) scale(0.925,1)">SAMHD1</text>
<rect x="226.15" y="298.76" width="4.40" height="16.99" fill="#0f4d8c" />
<rect x="226.15" y="315.75" width="4.40" height="8.43" fill="#f78f10" />
<line x1="228.35" y1="341.00" x2="228.35" y2="343.00" stroke="#222" stroke-width="0.5" />
<text x="0.00" y="0.00"  font-size="6.80" text-anchor="end" fill="#222" stroke="#222" stroke-width="0.13" font-weight="normal" font-style="normal" transform="translate(230.65,344.8) rotate(-90) scale(0.925,1)">SELL</text>
<rect x="233.05" y="307.69" width="4.40" height="8.06" fill="#0f4d8c" />
<rect x="233.05" y="315.75" width="4.40" height="6.70" fill="#f78f10" />
<line x1="235.25" y1="341.00" x2="235.25" y2="343.00" stroke="#222" stroke-width="0.5" />
<text x="0.00" y="0.00"  font-size="6.80" text-anchor="end" fill="#222" stroke="#222" stroke-width="0.13" font-weight="normal" font-style="normal" transform="translate(237.55,344.8) rotate(-90) scale(0.925,1)">SLC25A30</text>
<rect x="239.95" y="306.20" width="4.40" height="9.55" fill="#0f4d8c" />
<rect x="239.95" y="315.75" width="4.40" height="6.70" fill="#f78f10" />
<line x1="242.15" y1="341.00" x2="242.15" y2="343.00" stroke="#222" stroke-width="0.5" />
<text x="0.00" y="0.00"  font-size="6.80" text-anchor="end" fill="#222" stroke="#222" stroke-width="0.13" font-weight="normal" font-style="normal" transform="translate(244.45,344.8) rotate(-90) scale(0.925,1)">SLC45A3</text>
<rect x="246.85" y="305.83" width="4.40" height="9.92" fill="#0f4d8c" />
<rect x="246.85" y="315.75" width="4.40" height="6.70" fill="#f78f10" />
<line x1="249.05" y1="341.00" x2="249.05" y2="343.00" stroke="#222" stroke-width="0.5" />
<text x="0.00" y="0.00"  font-size="6.80" text-anchor="end" fill="#222" stroke="#222" stroke-width="0.13" font-weight="normal" font-style="normal" transform="translate(251.35,344.8) rotate(-90) scale(0.925,1)">SOCS3</text>
<rect x="253.75" y="309.55" width="4.40" height="6.20" fill="#0f4d8c" />
<rect x="253.75" y="315.75" width="4.40" height="6.20" fill="#f78f10" />
<line x1="255.95" y1="341.00" x2="255.95" y2="343.00" stroke="#222" stroke-width="0.5" />
<text x="0.00" y="0.00"  font-size="6.80" text-anchor="end" fill="#222" stroke="#222" stroke-width="0.13" font-weight="normal" font-style="normal" transform="translate(258.25,344.8) rotate(-90) scale(0.925,1)">SPI1</text>
<line x1="44.30" y1="262.00" x2="44.30" y2="341.00" stroke="#222" stroke-width="0.8" />
<line x1="44.30" y1="341.00" x2="261.00" y2="341.00" stroke="#222" stroke-width="0.7" />
<line x1="44.30" y1="315.75" x2="261.00" y2="315.75" stroke="#222" stroke-width="0.7" />
<line x1="42.30" y1="340.55" x2="44.30" y2="340.55" stroke="#222" stroke-width="0.6" />
<text x="0.00" y="0.00" transform="translate(38.30,342.65) scale(0.925,1)" font-size="6.59" text-anchor="end" fill="#222" stroke="#222" stroke-width="0.13" font-weight="normal" font-style="normal" >−2</text>
<line x1="42.30" y1="328.15" x2="44.30" y2="328.15" stroke="#222" stroke-width="0.6" />
<text x="0.00" y="0.00" transform="translate(38.30,330.25) scale(0.925,1)" font-size="6.59" text-anchor="end" fill="#222" stroke="#222" stroke-width="0.13" font-weight="normal" font-style="normal" >−1</text>
<line x1="42.30" y1="315.75" x2="44.30" y2="315.75" stroke="#222" stroke-width="0.6" />
<text x="0.00" y="0.00" transform="translate(38.30,317.85) scale(0.925,1)" font-size="6.59" text-anchor="end" fill="#222" stroke="#222" stroke-width="0.13" font-weight="normal" font-style="normal" >0</text>
<line x1="42.30" y1="303.35" x2="44.30" y2="303.35" stroke="#222" stroke-width="0.6" />
<text x="0.00" y="0.00" transform="translate(38.30,305.45) scale(0.925,1)" font-size="6.59" text-anchor="end" fill="#222" stroke="#222" stroke-width="0.13" font-weight="normal" font-style="normal" >1</text>
<line x1="42.30" y1="290.95" x2="44.30" y2="290.95" stroke="#222" stroke-width="0.6" />
<text x="0.00" y="0.00" transform="translate(38.30,293.05) scale(0.925,1)" font-size="6.59" text-anchor="end" fill="#222" stroke="#222" stroke-width="0.13" font-weight="normal" font-style="normal" >2</text>
<line x1="42.30" y1="278.55" x2="44.30" y2="278.55" stroke="#222" stroke-width="0.6" />
<text x="0.00" y="0.00" transform="translate(38.30,280.65) scale(0.925,1)" font-size="6.59" text-anchor="end" fill="#222" stroke="#222" stroke-width="0.13" font-weight="normal" font-style="normal" >3</text>
<line x1="42.30" y1="266.15" x2="44.30" y2="266.15" stroke="#222" stroke-width="0.6" />
<text x="0.00" y="0.00" transform="translate(38.30,268.25) scale(0.925,1)" font-size="6.59" text-anchor="end" fill="#222" stroke="#222" stroke-width="0.13" font-weight="normal" font-style="normal" >4</text>
<text x="0.00" y="0.00"  font-size="6.59" text-anchor="middle" fill="#222" stroke="#222" stroke-width="0.13" font-weight="normal" font-style="normal" transform="translate(25,302.4) rotate(-90) scale(0.925,1)">log2FC (to S-A)</text>
<rect x="225.00" y="268.75" width="11.25" height="3.60" fill="#0f4d8c" />
<text x="0.00" y="0.00" transform="translate(240.00,272.50) scale(0.925,1)" font-size="6.59" text-anchor="start" fill="#222" stroke="#222" stroke-width="0.13" font-weight="normal" font-style="normal" >S-R</text>
<rect x="225.00" y="278.00" width="11.25" height="3.60" fill="#f78f10" />
<text x="0.00" y="0.00" transform="translate(240.00,281.80) scale(0.925,1)" font-size="6.59" text-anchor="start" fill="#222" stroke="#222" stroke-width="0.13" font-weight="normal" font-style="normal" >S-S</text>
<text x="275.80" y="255.80"  font-size="11.20" text-anchor="start" fill="#111" stroke="#111" stroke-width="0.2" font-weight="bold" font-style="normal" >E</text>
<line x1="401.00" y1="255.00" x2="388.10" y2="274.20" stroke="#8c95b0" stroke-width="1.2" stroke-linecap="round"/>
<line x1="388.10" y1="274.20" x2="363.80" y2="307.30" stroke="#aab2c6" stroke-width="0.8" stroke-linecap="round"/>
<line x1="388.10" y1="274.20" x2="357.70" y2="295.60" stroke="#aab2c6" stroke-width="0.8" stroke-linecap="round"/>
<line x1="389.40" y1="296.00" x2="411.90" y2="292.70" stroke="#6e7a98" stroke-width="1.8" stroke-linecap="round"/>
<line x1="336.50" y1="280.40" x2="357.70" y2="295.60" stroke="#5a6888" stroke-width="2.6" stroke-linecap="round"/>
<line x1="336.50" y1="280.40" x2="363.80" y2="307.30" stroke="#6e7a98" stroke-width="1.8" stroke-linecap="round"/>
<line x1="326.00" y1="295.20" x2="357.70" y2="295.60" stroke="#5a6888" stroke-width="2.6" stroke-linecap="round"/>
<line x1="326.00" y1="295.20" x2="363.80" y2="307.30" stroke="#5a6888" stroke-width="2.6" stroke-linecap="round"/>
<line x1="357.70" y1="295.60" x2="363.80" y2="307.30" stroke="#6e7a98" stroke-width="1.8" stroke-linecap="round"/>
<line x1="336.50" y1="280.40" x2="326.00" y2="295.20" stroke="#aab2c6" stroke-width="0.8" stroke-linecap="round"/>
<line x1="326.00" y1="295.20" x2="334.60" y2="321.70" stroke="#aab2c6" stroke-width="0.8" stroke-linecap="round"/>
<line x1="336.50" y1="280.40" x2="334.60" y2="321.70" stroke="#aab2c6" stroke-width="0.8" stroke-linecap="round"/>
<line x1="336.50" y1="280.40" x2="332.80" y2="348.00" stroke="#c2c8d6" stroke-width="0.6" stroke-linecap="round"/>
<line x1="295.60" y1="312.10" x2="334.60" y2="321.70" stroke="#aab2c6" stroke-width="0.8" stroke-linecap="round"/>
<line x1="295.60" y1="312.10" x2="332.80" y2="348.00" stroke="#aab2c6" stroke-width="0.8" stroke-linecap="round"/>
<line x1="334.60" y1="321.70" x2="332.80" y2="348.00" stroke="#6e7a98" stroke-width="1.8" stroke-linecap="round"/>
<line x1="299.60" y1="335.50" x2="334.60" y2="321.70" stroke="#6e7a98" stroke-width="1.8" stroke-linecap="round"/>
<line x1="299.60" y1="335.50" x2="332.80" y2="348.00" stroke="#5a6888" stroke-width="2.6" stroke-linecap="round"/>
<line x1="334.60" y1="321.70" x2="363.80" y2="307.30" stroke="#aab2c6" stroke-width="0.8" stroke-linecap="round"/>
<line x1="334.60" y1="321.70" x2="355.40" y2="340.00" stroke="#aab2c6" stroke-width="0.8" stroke-linecap="round"/>
<line x1="334.60" y1="321.70" x2="383.10" y2="337.70" stroke="#aab2c6" stroke-width="0.8" stroke-linecap="round"/>
<line x1="332.80" y1="348.00" x2="355.40" y2="340.00" stroke="#6e7a98" stroke-width="1.8" stroke-linecap="round"/>
<line x1="332.80" y1="348.00" x2="363.80" y2="307.30" stroke="#8c95b0" stroke-width="1.2" stroke-linecap="round"/>
<line x1="332.80" y1="348.00" x2="357.70" y2="295.60" stroke="#8c95b0" stroke-width="1.2" stroke-linecap="round"/>
<line x1="332.80" y1="348.00" x2="383.10" y2="337.70" stroke="#aab2c6" stroke-width="0.8" stroke-linecap="round"/>
<line x1="332.80" y1="348.00" x2="301.10" y2="363.10" stroke="#8c95b0" stroke-width="1.2" stroke-linecap="round"/>
<line x1="332.80" y1="348.00" x2="315.40" y2="380.40" stroke="#8c95b0" stroke-width="1.2" stroke-linecap="round"/>
<line x1="332.80" y1="348.00" x2="334.30" y2="379.70" stroke="#aab2c6" stroke-width="0.8" stroke-linecap="round"/>
<line x1="332.80" y1="348.00" x2="370.80" y2="361.50" stroke="#aab2c6" stroke-width="0.8" stroke-linecap="round"/>
<line x1="332.80" y1="348.00" x2="372.00" y2="382.70" stroke="#c2c8d6" stroke-width="0.6" stroke-linecap="round"/>
<line x1="355.40" y1="340.00" x2="383.10" y2="337.70" stroke="#8c95b0" stroke-width="1.2" stroke-linecap="round"/>
<line x1="355.40" y1="340.00" x2="370.80" y2="361.50" stroke="#6e7a98" stroke-width="1.8" stroke-linecap="round"/>
<line x1="363.80" y1="307.30" x2="383.10" y2="337.70" stroke="#8c95b0" stroke-width="1.2" stroke-linecap="round"/>
<line x1="363.80" y1="307.30" x2="355.40" y2="340.00" stroke="#aab2c6" stroke-width="0.8" stroke-linecap="round"/>
<line x1="363.80" y1="307.30" x2="370.80" y2="361.50" stroke="#8c95b0" stroke-width="1.2" stroke-linecap="round"/>
<line x1="383.10" y1="337.70" x2="370.80" y2="361.50" stroke="#aab2c6" stroke-width="0.8" stroke-linecap="round"/>
<line x1="383.10" y1="337.70" x2="372.00" y2="382.70" stroke="#aab2c6" stroke-width="0.8" stroke-linecap="round"/>
<line x1="370.80" y1="361.50" x2="402.70" y2="359.20" stroke="#aab2c6" stroke-width="0.8" stroke-linecap="round"/>
<line x1="370.80" y1="361.50" x2="372.00" y2="382.70" stroke="#aab2c6" stroke-width="0.8" stroke-linecap="round"/>
<line x1="301.10" y1="363.10" x2="315.40" y2="380.40" stroke="#aab2c6" stroke-width="0.8" stroke-linecap="round"/>
<line x1="363.80" y1="307.30" x2="315.40" y2="380.40" stroke="#8c95b0" stroke-width="1.2" stroke-linecap="round"/>
<line x1="357.70" y1="295.60" x2="315.40" y2="380.40" stroke="#aab2c6" stroke-width="0.8" stroke-linecap="round"/>
<line x1="299.60" y1="335.50" x2="315.40" y2="380.40" stroke="#c2c8d6" stroke-width="0.6" stroke-linecap="round"/>
<line x1="383.10" y1="337.70" x2="402.70" y2="359.20" stroke="#c2c8d6" stroke-width="0.6" stroke-linecap="round"/>
<line x1="299.60" y1="335.50" x2="301.10" y2="363.10" stroke="#c2c8d6" stroke-width="0.6" stroke-linecap="round"/>
<line x1="357.70" y1="295.60" x2="332.80" y2="348.00" stroke="#aab2c6" stroke-width="0.8" stroke-linecap="round"/>
<line x1="326.00" y1="295.20" x2="332.80" y2="348.00" stroke="#c2c8d6" stroke-width="0.6" stroke-linecap="round"/>
<line x1="295.60" y1="312.10" x2="383.10" y2="337.70" stroke="#c2c8d6" stroke-width="0.6" stroke-linecap="round"/>
<circle cx="401.00" cy="255.00" r="3.90" fill="#ffffff" stroke="#8a8a8a" stroke-width="0.7" />
<circle cx="388.10" cy="274.20" r="3.90" fill="#ffffff" stroke="#8a8a8a" stroke-width="0.7" />
<circle cx="336.50" cy="280.40" r="3.90" fill="#ffffff" stroke="#8a8a8a" stroke-width="0.7" />
<circle cx="326.00" cy="295.20" r="3.90" fill="#ffffff" stroke="#8a8a8a" stroke-width="0.7" />
<circle cx="357.70" cy="295.60" r="3.90" fill="#ffffff" stroke="#8a8a8a" stroke-width="0.7" />
<circle cx="389.40" cy="296.00" r="3.90" fill="#ffffff" stroke="#8a8a8a" stroke-width="0.7" />
<circle cx="411.90" cy="292.70" r="3.90" fill="#ffffff" stroke="#8a8a8a" stroke-width="0.7" />
<circle cx="363.80" cy="307.30" r="3.90" fill="#ffffff" stroke="#8a8a8a" stroke-width="0.7" />
<circle cx="295.60" cy="312.10" r="3.90" fill="#ffffff" stroke="#8a8a8a" stroke-width="0.7" />
<circle cx="334.60" cy="321.70" r="3.90" fill="#ffffff" stroke="#8a8a8a" stroke-width="0.7" />
<circle cx="299.60" cy="335.50" r="3.90" fill="#ffffff" stroke="#8a8a8a" stroke-width="0.7" />
<circle cx="332.80" cy="348.00" r="3.90" fill="#ffffff" stroke="#8a8a8a" stroke-width="0.7" />
<circle cx="355.40" cy="340.00" r="3.90" fill="#ffffff" stroke="#8a8a8a" stroke-width="0.7" />
<circle cx="383.10" cy="337.70" r="3.90" fill="#ffffff" stroke="#8a8a8a" stroke-width="0.7" />
<circle cx="402.70" cy="359.20" r="3.90" fill="#ffffff" stroke="#8a8a8a" stroke-width="0.7" />
<circle cx="301.10" cy="363.10" r="3.90" fill="#ffffff" stroke="#8a8a8a" stroke-width="0.7" />
<circle cx="370.80" cy="361.50" r="3.90" fill="#ffffff" stroke="#8a8a8a" stroke-width="0.7" />
<circle cx="334.30" cy="379.70" r="3.90" fill="#ffffff" stroke="#8a8a8a" stroke-width="0.7" />
<circle cx="315.40" cy="380.40" r="3.90" fill="#ffffff" stroke="#8a8a8a" stroke-width="0.7" />
<circle cx="372.00" cy="382.70" r="3.90" fill="#ffffff" stroke="#8a8a8a" stroke-width="0.7" />
<text x="0.00" y="0.00" transform="translate(405.80,259.10) scale(0.925,1)" font-size="6.59" text-anchor="start" fill="#222" stroke="#222" stroke-width="0.13" font-weight="normal" font-style="normal" >SAMHD1</text>
<text x="0.00" y="0.00" transform="translate(392.70,275.70) scale(0.925,1)" font-size="6.59" text-anchor="start" fill="#222" stroke="#222" stroke-width="0.13" font-weight="normal" font-style="normal" >OASL</text>
<text x="0.00" y="0.00" transform="translate(336.50,275.90) scale(0.925,1)" font-size="6.59" text-anchor="middle" fill="#222" stroke="#222" stroke-width="0.13" font-weight="normal" font-style="normal" >CIITA</text>
<text x="0.00" y="0.00" transform="translate(327.70,291.20) scale(0.925,1)" font-size="6.59" text-anchor="middle" fill="#222" stroke="#222" stroke-width="0.13" font-weight="normal" font-style="normal" >HLA-DOB1</text>
<text x="0.00" y="0.00" transform="translate(352.00,291.20) scale(0.925,1)" font-size="6.59" text-anchor="start" fill="#222" stroke="#222" stroke-width="0.13" font-weight="normal" font-style="normal" >HLA-DRA</text>
<text x="0.00" y="0.00" transform="translate(394.00,291.40) scale(0.925,1)" font-size="6.59" text-anchor="middle" fill="#222" stroke="#222" stroke-width="0.13" font-weight="normal" font-style="normal" >SLC45A3</text>
<text x="0.00" y="0.00" transform="translate(414.40,288.50) scale(0.925,1)" font-size="6.59" text-anchor="start" fill="#222" stroke="#222" stroke-width="0.13" font-weight="normal" font-style="normal" >ACPP</text>
<text x="0.00" y="0.00" transform="translate(368.30,309.10) scale(0.925,1)" font-size="6.59" text-anchor="start" fill="#222" stroke="#222" stroke-width="0.13" font-weight="normal" font-style="normal" >CD74</text>
<text x="0.00" y="0.00" transform="translate(294.60,308.20) scale(0.925,1)" font-size="6.59" text-anchor="middle" fill="#222" stroke="#222" stroke-width="0.13" font-weight="normal" font-style="normal" >NCF2</text>
<text x="0.00" y="0.00" transform="translate(332.10,317.80) scale(0.925,1)" font-size="6.59" text-anchor="middle" fill="#222" stroke="#222" stroke-width="0.13" font-weight="normal" font-style="normal" >SPI1</text>
<text x="0.00" y="0.00" transform="translate(297.50,331.20) scale(0.925,1)" font-size="6.59" text-anchor="middle" fill="#222" stroke="#222" stroke-width="0.13" font-weight="normal" font-style="normal" >CD14</text>
<text x="0.00" y="0.00" transform="translate(332.70,343.80) scale(0.925,1)" font-size="6.59" text-anchor="middle" fill="#222" stroke="#222" stroke-width="0.13" font-weight="normal" font-style="normal" >CSF1R</text>
<text x="0.00" y="0.00" transform="translate(359.30,342.20) scale(0.925,1)" font-size="6.59" text-anchor="start" fill="#222" stroke="#222" stroke-width="0.13" font-weight="normal" font-style="normal" >MRC1</text>
<text x="0.00" y="0.00" transform="translate(387.00,339.90) scale(0.925,1)" font-size="6.59" text-anchor="start" fill="#222" stroke="#222" stroke-width="0.13" font-weight="normal" font-style="normal" >CD1C</text>
<text x="0.00" y="0.00" transform="translate(374.30,351.40) scale(0.925,1)" font-size="6.59" text-anchor="start" fill="#222" stroke="#222" stroke-width="0.13" font-weight="normal" font-style="normal" >LOC102723996</text>
<text x="0.00" y="0.00" transform="translate(297.00,359.50) scale(0.925,1)" font-size="6.59" text-anchor="middle" fill="#222" stroke="#222" stroke-width="0.13" font-weight="normal" font-style="normal" >IL1R1</text>
<text x="0.00" y="0.00" transform="translate(374.30,369.90) scale(0.925,1)" font-size="6.59" text-anchor="start" fill="#222" stroke="#222" stroke-width="0.13" font-weight="normal" font-style="normal" >SELL</text>
<text x="0.00" y="0.00" transform="translate(339.00,381.90) scale(0.925,1)" font-size="6.59" text-anchor="start" fill="#222" stroke="#222" stroke-width="0.13" font-weight="normal" font-style="normal" >P2RY13</text>
<text x="0.00" y="0.00" transform="translate(316.50,389.60) scale(0.925,1)" font-size="6.59" text-anchor="middle" fill="#222" stroke="#222" stroke-width="0.13" font-weight="normal" font-style="normal" >SOCS3</text>
<text x="0.00" y="0.00" transform="translate(376.60,384.90) scale(0.925,1)" font-size="6.59" text-anchor="start" fill="#222" stroke="#222" stroke-width="0.13" font-weight="normal" font-style="normal" >CD24</text>
<text x="6.00" y="416.00"  font-size="11.20" text-anchor="start" fill="#111" stroke="#111" stroke-width="0.2" font-weight="bold" font-style="normal" >F</text>
<line x1="20.20" y1="418.30" x2="93.00" y2="418.30" stroke="#222" stroke-width="0.8" />
<line x1="20.20" y1="418.30" x2="20.20" y2="507.50" stroke="#222" stroke-width="0.8" />
<line x1="20.20" y1="507.50" x2="95.00" y2="507.50" stroke="#222" stroke-width="0.8" />
<line x1="20.20" y1="424.30" x2="21.40" y2="424.30" stroke="#222" stroke-width="0.5" />
<line x1="20.20" y1="433.60" x2="21.40" y2="433.60" stroke="#222" stroke-width="0.5" />
<line x1="20.20" y1="442.90" x2="21.40" y2="442.90" stroke="#222" stroke-width="0.5" />
<line x1="20.20" y1="452.20" x2="21.40" y2="452.20" stroke="#222" stroke-width="0.5" />
<line x1="20.20" y1="461.50" x2="21.40" y2="461.50" stroke="#222" stroke-width="0.5" />
<line x1="20.20" y1="470.80" x2="21.40" y2="470.80" stroke="#222" stroke-width="0.5" />
<line x1="20.20" y1="480.10" x2="21.40" y2="480.10" stroke="#222" stroke-width="0.5" />
<line x1="20.20" y1="489.40" x2="21.40" y2="489.40" stroke="#222" stroke-width="0.5" />
<line x1="20.20" y1="498.70" x2="21.40" y2="498.70" stroke="#222" stroke-width="0.5" />
<line x1="20.20" y1="508.00" x2="21.40" y2="508.00" stroke="#222" stroke-width="0.5" />
<line x1="26.50" y1="507.50" x2="26.50" y2="508.90" stroke="#222" stroke-width="0.5" />
<line x1="31.00" y1="507.50" x2="31.00" y2="508.90" stroke="#222" stroke-width="0.5" />
<line x1="35.00" y1="507.50" x2="35.00" y2="508.90" stroke="#222" stroke-width="0.5" />
<line x1="39.00" y1="507.50" x2="39.00" y2="508.90" stroke="#222" stroke-width="0.5" />
<line x1="43.50" y1="507.50" x2="43.50" y2="508.90" stroke="#222" stroke-width="0.5" />
<line x1="59.00" y1="507.50" x2="59.00" y2="508.90" stroke="#222" stroke-width="0.5" />
<line x1="73.00" y1="507.50" x2="73.00" y2="508.90" stroke="#222" stroke-width="0.5" />
<line x1="78.00" y1="507.50" x2="78.00" y2="508.90" stroke="#222" stroke-width="0.5" />
<line x1="85.00" y1="507.50" x2="85.00" y2="508.90" stroke="#222" stroke-width="0.5" />
<path d="M39.5,507.5 L41.5,505 L42.8,498 L43.8,480 L44.6,450 L45.1,426.3 L45.7,440 L46.5,462 L47.5,477 L49,490 L50.5,497.5 L52,502 L54,506 L56,507.5 Z" fill="#2c3a52"/>
<path d="M48.75,495 L51,493.5 L53.75,492.5 L56,492 L58.75,491.25 L60.5,490.8 L62.5,490 L64.5,488 L66.25,486.25 L68,485.5 L70,485 L72,482 L73.75,480 L76.25,475 L77.5,466 L78.75,455 L80.5,437.5 L82,433.75 L83.75,437.5 L85,450 L86.25,470 L87.5,487.5 L88.75,499 L90.5,504.5 L92.5,507" fill="none" stroke="#b8c6d8" stroke-width="0.8"/>
<path d="M48.75,500 L50.5,499.5 L52.5,498.75 L54.5,497.5 L56.25,496.25 L58,497.5 L60,497.5 L62,495 L63.75,493.75 L65,495.5 L66.25,495 L67.5,492 L68.75,490 L70.5,488.5 L72.5,486.25 L74,484.5 L75,482.5 L76.5,479 L77.5,475 L78.5,470 L79.5,462.5 L80.5,450 L81.25,440 L82.5,433.75 L83.75,437.5 L85,450 L86.25,470 L87.5,487.5 L88.75,499 L90.5,504.5 L92.5,507" fill="none" stroke="#3a5a84" stroke-width="0.8"/>
<path d="M48.75,490 L50.5,486 L52.5,482.5 L55,481.25 L57.5,477.5 L60,475 L62.5,471.25 L64.5,474.5 L66.25,467.5 L68.75,470 L71.25,465.5 L73.75,463.75 L75,460 L76.25,450 L78,440 L79.5,433.75 L80.5,436.25 L82,432.5 L83.75,437.5 L85,450 L86.25,470 L87,484 L88,490 L89,491.5 L90,498 L91.5,505 L93,507.3" fill="none" stroke="#f0a048" stroke-width="0.8"/>
<text x="0.00" y="0.00" transform="translate(23.75,425.00) scale(0.925,1)" font-size="6.59" text-anchor="start" fill="#555" stroke="#555" stroke-width="0.13" font-weight="normal" font-style="normal" >Unstained</text>
<text x="0.00" y="0.00" transform="translate(23.75,431.30) scale(0.925,1)" font-size="6.59" text-anchor="start" fill="#b8c4d2" stroke="#b8c4d2" stroke-width="0.13" font-weight="normal" font-style="normal" >S-A</text>
<text x="0.00" y="0.00" transform="translate(23.75,438.30) scale(0.925,1)" font-size="6.59" text-anchor="start" fill="#2d5a8c" stroke="#2d5a8c" stroke-width="0.13" font-weight="normal" font-style="normal" >S-R</text>
<text x="0.00" y="0.00" transform="translate(23.75,446.20) scale(0.925,1)" font-size="6.59" text-anchor="start" fill="#f0a040" stroke="#f0a040" stroke-width="0.13" font-weight="normal" font-style="normal" >S-S</text>
<text x="0.00" y="0.00" transform="translate(64.40,518.50) scale(0.925,1)" font-size="6.59" text-anchor="middle" fill="#222" stroke="#222" stroke-width="0.13" font-weight="normal" font-style="normal" >PU.1</text>
<line x1="155.80" y1="417.00" x2="155.80" y2="506.60" stroke="#222" stroke-width="0.8" />
<line x1="155.80" y1="506.60" x2="228.50" y2="506.60" stroke="#222" stroke-width="0.8" />
<line x1="153.80" y1="418.20" x2="155.80" y2="418.20" stroke="#222" stroke-width="0.6" />
<text x="0.00" y="0.00" transform="translate(152.30,420.30) scale(0.925,1)" font-size="6.59" text-anchor="end" fill="#222" stroke="#222" stroke-width="0.13" font-weight="normal" font-style="normal" >1.00</text>
<line x1="153.80" y1="430.50" x2="155.80" y2="430.50" stroke="#222" stroke-width="0.6" />
<text x="0.00" y="0.00" transform="translate(152.30,432.60) scale(0.925,1)" font-size="6.59" text-anchor="end" fill="#222" stroke="#222" stroke-width="0.13" font-weight="normal" font-style="normal" >0.75</text>
<line x1="153.80" y1="442.80" x2="155.80" y2="442.80" stroke="#222" stroke-width="0.6" />
<text x="0.00" y="0.00" transform="translate(152.30,444.90) scale(0.925,1)" font-size="6.59" text-anchor="end" fill="#222" stroke="#222" stroke-width="0.13" font-weight="normal" font-style="normal" >0.50</text>
<line x1="153.80" y1="455.10" x2="155.80" y2="455.10" stroke="#222" stroke-width="0.6" />
<text x="0.00" y="0.00" transform="translate(152.30,457.20) scale(0.925,1)" font-size="6.59" text-anchor="end" fill="#222" stroke="#222" stroke-width="0.13" font-weight="normal" font-style="normal" >0.25</text>
<line x1="153.80" y1="467.40" x2="155.80" y2="467.40" stroke="#222" stroke-width="0.6" />
<text x="0.00" y="0.00" transform="translate(152.30,469.50) scale(0.925,1)" font-size="6.59" text-anchor="end" fill="#222" stroke="#222" stroke-width="0.13" font-weight="normal" font-style="normal" >0.00</text>
<line x1="153.80" y1="479.70" x2="155.80" y2="479.70" stroke="#222" stroke-width="0.6" />
<text x="0.00" y="0.00" transform="translate(152.30,481.80) scale(0.925,1)" font-size="6.59" text-anchor="end" fill="#222" stroke="#222" stroke-width="0.13" font-weight="normal" font-style="normal" >−0.25</text>
<line x1="153.80" y1="492.00" x2="155.80" y2="492.00" stroke="#222" stroke-width="0.6" />
<text x="0.00" y="0.00" transform="translate(152.30,494.10) scale(0.925,1)" font-size="6.59" text-anchor="end" fill="#222" stroke="#222" stroke-width="0.13" font-weight="normal" font-style="normal" >−0.50</text>
<line x1="153.80" y1="504.30" x2="155.80" y2="504.30" stroke="#222" stroke-width="0.6" />
<text x="0.00" y="0.00" transform="translate(152.30,506.40) scale(0.925,1)" font-size="6.59" text-anchor="end" fill="#222" stroke="#222" stroke-width="0.13" font-weight="normal" font-style="normal" >−0.75</text>
<rect x="166.20" y="444.28" width="19.60" height="23.12" fill="#0f4d8c" />
<rect x="196.90" y="467.40" width="19.60" height="17.22" fill="#f78f10" />
<line x1="155.80" y1="467.40" x2="228.50" y2="467.40" stroke="#999" stroke-width="0.8" />
<line x1="176.00" y1="444.28" x2="176.00" y2="433.94" stroke="#111" stroke-width="0.8" />
<line x1="171.00" y1="433.94" x2="181.00" y2="433.94" stroke="#111" stroke-width="0.8" />
<circle cx="176.10" cy="430.40" r="1.30" fill="#111" stroke="none" stroke-width="0.6" />
<circle cx="176.10" cy="442.00" r="1.30" fill="#111" stroke="none" stroke-width="0.6" />
<circle cx="173.10" cy="451.20" r="1.30" fill="#111" stroke="none" stroke-width="0.6" />
<circle cx="179.60" cy="451.20" r="1.30" fill="#111" stroke="none" stroke-width="0.6" />
<circle cx="206.60" cy="478.40" r="1.30" fill="#111" stroke="none" stroke-width="0.6" />
<circle cx="207.30" cy="484.20" r="1.30" fill="#111" stroke="none" stroke-width="0.6" />
<circle cx="203.80" cy="489.30" r="1.30" fill="#111" stroke="none" stroke-width="0.6" />
<circle cx="210.00" cy="487.70" r="1.30" fill="#111" stroke="none" stroke-width="0.6" />
<text x="0.00" y="0.00" transform="translate(162.70,426.80) scale(0.925,1)" font-size="6.59" text-anchor="start" fill="#222" stroke="#222" stroke-width="0.13" font-weight="normal" font-style="normal" >*<tspan font-style="italic">P</tspan> = .016</text>
<text x="0.00" y="0.00" transform="translate(192.30,500.70) scale(0.925,1)" font-size="6.59" text-anchor="start" fill="#222" stroke="#222" stroke-width="0.13" font-weight="normal" font-style="normal" >**<tspan font-style="italic">P</tspan> = .005</text>
<line x1="176.00" y1="506.60" x2="176.00" y2="508.50" stroke="#222" stroke-width="0.6" />
<text x="0.00" y="0.00" transform="translate(176.00,518.20) scale(0.925,1)" font-size="6.59" text-anchor="middle" fill="#222" stroke="#222" stroke-width="0.13" font-weight="normal" font-style="normal" >S-R</text>
<line x1="206.70" y1="506.60" x2="206.70" y2="508.50" stroke="#222" stroke-width="0.6" />
<text x="0.00" y="0.00" transform="translate(206.70,518.20) scale(0.925,1)" font-size="6.59" text-anchor="middle" fill="#222" stroke="#222" stroke-width="0.13" font-weight="normal" font-style="normal" >S-S</text>
<text x="0.00" y="0.00"  font-size="6.59" text-anchor="middle" fill="#222" stroke="#222" stroke-width="0.13" font-weight="normal" font-style="normal" transform="translate(128,462) rotate(-90) scale(0.925,1)">log2FC MFI (to S-A)</text>
<text x="261.00" y="416.00"  font-size="11.20" text-anchor="start" fill="#111" stroke="#111" stroke-width="0.2" font-weight="bold" font-style="normal" >G</text>
<text x="0.00" y="0.00" transform="translate(391.30,421.20) scale(0.925,1)" font-size="8.86" text-anchor="middle" fill="#222" stroke="#222" stroke-width="0.13" font-weight="normal" font-style="normal" >TRRUST PU.1 targets</text>
<text x="0.00" y="0.00" transform="translate(331.50,431.00) scale(0.925,1)" font-size="6.59" text-anchor="middle" fill="#222" stroke="#222" stroke-width="0.13" font-weight="normal" font-style="normal" >S-R vs S-A</text>
<rect x="281.8" y="435.5" width="99.39999999999998" height="63.69999999999999" fill="none" stroke="#222" stroke-width="0.8"/>
<line x1="281.80" y1="480.30" x2="381.20" y2="480.30" stroke="#222" stroke-width="0.7" />
<line x1="280.00" y1="439.00" x2="281.80" y2="439.00" stroke="#222" stroke-width="0.6" />
<text x="0.00" y="0.00" transform="translate(276.60,441.10) scale(0.925,1)" font-size="6.59" text-anchor="end" fill="#222" stroke="#222" stroke-width="0.13" font-weight="normal" font-style="normal" >0.5</text>
<line x1="280.00" y1="445.40" x2="281.80" y2="445.40" stroke="#222" stroke-width="0.6" />
<text x="0.00" y="0.00" transform="translate(276.60,447.50) scale(0.925,1)" font-size="6.59" text-anchor="end" fill="#222" stroke="#222" stroke-width="0.13" font-weight="normal" font-style="normal" >0.4</text>
<line x1="280.00" y1="451.80" x2="281.80" y2="451.80" stroke="#222" stroke-width="0.6" />
<text x="0.00" y="0.00" transform="translate(276.60,453.90) scale(0.925,1)" font-size="6.59" text-anchor="end" fill="#222" stroke="#222" stroke-width="0.13" font-weight="normal" font-style="normal" >0.3</text>
<line x1="280.00" y1="458.20" x2="281.80" y2="458.20" stroke="#222" stroke-width="0.6" />
<text x="0.00" y="0.00" transform="translate(276.60,460.30) scale(0.925,1)" font-size="6.59" text-anchor="end" fill="#222" stroke="#222" stroke-width="0.13" font-weight="normal" font-style="normal" >0.2</text>
<line x1="280.00" y1="464.60" x2="281.80" y2="464.60" stroke="#222" stroke-width="0.6" />
<text x="0.00" y="0.00" transform="translate(276.60,466.70) scale(0.925,1)" font-size="6.59" text-anchor="end" fill="#222" stroke="#222" stroke-width="0.13" font-weight="normal" font-style="normal" >0.1</text>
<line x1="280.00" y1="471.00" x2="281.80" y2="471.00" stroke="#222" stroke-width="0.6" />
<text x="0.00" y="0.00" transform="translate(276.60,473.10) scale(0.925,1)" font-size="6.59" text-anchor="end" fill="#222" stroke="#222" stroke-width="0.13" font-weight="normal" font-style="normal" >0.0</text>
<line x1="280.00" y1="477.40" x2="281.80" y2="477.40" stroke="#222" stroke-width="0.6" />
<text x="0.00" y="0.00" transform="translate(276.60,479.50) scale(0.925,1)" font-size="6.59" text-anchor="end" fill="#222" stroke="#222" stroke-width="0.13" font-weight="normal" font-style="normal" >−0.1</text>
<line x1="281.80" y1="471.00" x2="381.20" y2="471.00" stroke="#a8a8a8" stroke-width="0.6" />
<polyline points="282.00,469.08 282.50,463.32 283.20,455.00 285.00,445.40 287.40,439.64 290.00,440.92 293.00,441.56 294.30,441.56 296.60,439.00 300.60,438.36 302.50,439.00 304.70,440.92 308.10,441.56 312.70,443.80 322.00,449.88 336.60,460.38 347.00,465.24 357.40,469.72 360.00,471.64 366.90,476.12 371.50,476.76 373.60,478.04 375.20,470.36 376.00,471.00" fill="none" stroke="#5cb85c" stroke-width="0.75"/>
<text x="0.00" y="0.00" transform="translate(379.20,444.80) scale(0.925,1)" font-size="6.59" text-anchor="end" fill="#222" stroke="#222" stroke-width="0.13" font-weight="normal" font-style="normal" >NES = 1.75</text>
<line x1="282.60" y1="480.30" x2="282.60" y2="495.80" stroke="#111" stroke-width="0.75" />
<line x1="283.40" y1="480.30" x2="283.40" y2="495.80" stroke="#111" stroke-width="0.75" />
<line x1="284.20" y1="480.30" x2="284.20" y2="495.80" stroke="#111" stroke-width="0.75" />
<line x1="285.00" y1="480.30" x2="285.00" y2="495.80" stroke="#111" stroke-width="0.75" />
<line x1="285.80" y1="480.30" x2="285.80" y2="495.80" stroke="#111" stroke-width="0.75" />
<line x1="286.60" y1="480.30" x2="286.60" y2="495.80" stroke="#111" stroke-width="0.75" />
<line x1="287.40" y1="480.30" x2="287.40" y2="495.80" stroke="#111" stroke-width="0.75" />
<line x1="288.30" y1="480.30" x2="288.30" y2="495.80" stroke="#111" stroke-width="0.75" />
<line x1="290.80" y1="480.30" x2="290.80" y2="495.80" stroke="#777" stroke-width="0.75" />
<line x1="292.50" y1="480.30" x2="292.50" y2="495.80" stroke="#777" stroke-width="0.75" />
<line x1="294.00" y1="480.30" x2="294.00" y2="495.80" stroke="#444" stroke-width="0.75" />
<line x1="295.00" y1="480.30" x2="295.00" y2="495.80" stroke="#444" stroke-width="0.75" />
<line x1="296.00" y1="480.30" x2="296.00" y2="495.80" stroke="#444" stroke-width="0.75" />
<line x1="297.00" y1="480.30" x2="297.00" y2="495.80" stroke="#444" stroke-width="0.75" />
<line x1="298.00" y1="480.30" x2="298.00" y2="495.80" stroke="#444" stroke-width="0.75" />
<line x1="299.50" y1="480.30" x2="299.50" y2="495.80" stroke="#444" stroke-width="0.75" />
<line x1="300.50" y1="480.30" x2="300.50" y2="495.80" stroke="#444" stroke-width="0.75" />
<line x1="303.20" y1="480.30" x2="303.20" y2="495.80" stroke="#777" stroke-width="0.75" />
<line x1="304.20" y1="480.30" x2="304.20" y2="495.80" stroke="#777" stroke-width="0.75" />
<line x1="307.50" y1="480.30" x2="307.50" y2="495.80" stroke="#111" stroke-width="0.75" />
<line x1="308.40" y1="480.30" x2="308.40" y2="495.80" stroke="#111" stroke-width="0.75" />
<line x1="316.00" y1="480.30" x2="316.00" y2="495.80" stroke="#444" stroke-width="0.75" />
<line x1="317.00" y1="480.30" x2="317.00" y2="495.80" stroke="#444" stroke-width="0.75" />
<line x1="319.00" y1="480.30" x2="319.00" y2="495.80" stroke="#111" stroke-width="0.75" />
<line x1="320.50" y1="480.30" x2="320.50" y2="495.80" stroke="#111" stroke-width="0.75" />
<line x1="324.50" y1="480.30" x2="324.50" y2="495.80" stroke="#444" stroke-width="0.75" />
<line x1="326.50" y1="480.30" x2="326.50" y2="495.80" stroke="#444" stroke-width="0.75" />
<line x1="329.50" y1="480.30" x2="329.50" y2="495.80" stroke="#444" stroke-width="0.75" />
<line x1="331.00" y1="480.30" x2="331.00" y2="495.80" stroke="#444" stroke-width="0.75" />
<line x1="332.50" y1="480.30" x2="332.50" y2="495.80" stroke="#444" stroke-width="0.75" />
<line x1="333.50" y1="480.30" x2="333.50" y2="495.80" stroke="#444" stroke-width="0.75" />
<line x1="342.00" y1="480.30" x2="342.00" y2="495.80" stroke="#111" stroke-width="0.75" />
<line x1="343.20" y1="480.30" x2="343.20" y2="495.80" stroke="#111" stroke-width="0.75" />
<line x1="345.00" y1="480.30" x2="345.00" y2="495.80" stroke="#777" stroke-width="0.75" />
<line x1="346.50" y1="480.30" x2="346.50" y2="495.80" stroke="#777" stroke-width="0.75" />
<line x1="348.00" y1="480.30" x2="348.00" y2="495.80" stroke="#777" stroke-width="0.75" />
<line x1="349.00" y1="480.30" x2="349.00" y2="495.80" stroke="#777" stroke-width="0.75" />
<line x1="355.50" y1="480.30" x2="355.50" y2="495.80" stroke="#111" stroke-width="0.75" />
<line x1="367.50" y1="480.30" x2="367.50" y2="495.80" stroke="#777" stroke-width="0.75" />
<line x1="368.30" y1="480.30" x2="368.30" y2="495.80" stroke="#777" stroke-width="0.75" />
<line x1="369.10" y1="480.30" x2="369.10" y2="495.80" stroke="#777" stroke-width="0.75" />
<line x1="369.90" y1="480.30" x2="369.90" y2="495.80" stroke="#777" stroke-width="0.75" />
<line x1="370.70" y1="480.30" x2="370.70" y2="495.80" stroke="#777" stroke-width="0.75" />
<line x1="374.50" y1="480.30" x2="374.50" y2="495.80" stroke="#111" stroke-width="0.75" />
<defs><linearGradient id="cb282" x1="0" x2="1"><stop offset="0" stop-color="#e02838"/><stop offset="0.32" stop-color="#e85868"/><stop offset="0.38" stop-color="#f0a8b0"/><stop offset="0.52" stop-color="#f0eef2"/><stop offset="0.64" stop-color="#c8cce4"/><stop offset="0.72" stop-color="#6070b8"/><stop offset="1" stop-color="#3848a0"/></linearGradient></defs>
<rect x="282.20" y="495.80" width="94.00" height="3.40" fill="url(#cb282)" />
<line x1="281.80" y1="495.80" x2="381.20" y2="495.80" stroke="#222" stroke-width="0.5" />
<text x="0.00" y="0.00" transform="translate(282.30,507.60) scale(0.925,1)" font-size="6.59" text-anchor="start" fill="#222" stroke="#222" stroke-width="0.13" font-weight="normal" font-style="normal" >S-R positively</text>
<text x="0.00" y="0.00" transform="translate(282.30,514.60) scale(0.925,1)" font-size="6.59" text-anchor="start" fill="#222" stroke="#222" stroke-width="0.13" font-weight="normal" font-style="normal" >correlated</text>
<text x="0.00" y="0.00" transform="translate(381.50,507.60) scale(0.925,1)" font-size="6.59" text-anchor="end" fill="#222" stroke="#222" stroke-width="0.13" font-weight="normal" font-style="normal" >S-R negatively</text>
<text x="0.00" y="0.00" transform="translate(381.50,514.60) scale(0.925,1)" font-size="6.59" text-anchor="end" fill="#222" stroke="#222" stroke-width="0.13" font-weight="normal" font-style="normal" >correlated</text>
<text x="0.00" y="0.00" transform="translate(464.00,431.00) scale(0.925,1)" font-size="6.59" text-anchor="middle" fill="#222" stroke="#222" stroke-width="0.13" font-weight="normal" font-style="normal" >S-S vs S-A</text>
<rect x="414.7" y="435.5" width="98.59999999999997" height="63.69999999999999" fill="none" stroke="#222" stroke-width="0.8"/>
<line x1="414.70" y1="480.30" x2="513.30" y2="480.30" stroke="#222" stroke-width="0.7" />
<line x1="412.90" y1="439.20" x2="414.70" y2="439.20" stroke="#222" stroke-width="0.6" />
<text x="0.00" y="0.00" transform="translate(409.50,441.30) scale(0.925,1)" font-size="6.59" text-anchor="end" fill="#222" stroke="#222" stroke-width="0.13" font-weight="normal" font-style="normal" >0.1</text>
<line x1="412.90" y1="446.20" x2="414.70" y2="446.20" stroke="#222" stroke-width="0.6" />
<text x="0.00" y="0.00" transform="translate(409.50,448.30) scale(0.925,1)" font-size="6.59" text-anchor="end" fill="#222" stroke="#222" stroke-width="0.13" font-weight="normal" font-style="normal" >0.0</text>
<line x1="412.90" y1="453.20" x2="414.70" y2="453.20" stroke="#222" stroke-width="0.6" />
<text x="0.00" y="0.00" transform="translate(409.50,455.30) scale(0.925,1)" font-size="6.59" text-anchor="end" fill="#222" stroke="#222" stroke-width="0.13" font-weight="normal" font-style="normal" >−0.1</text>
<line x1="412.90" y1="460.20" x2="414.70" y2="460.20" stroke="#222" stroke-width="0.6" />
<text x="0.00" y="0.00" transform="translate(409.50,462.30) scale(0.925,1)" font-size="6.59" text-anchor="end" fill="#222" stroke="#222" stroke-width="0.13" font-weight="normal" font-style="normal" >−0.2</text>
<line x1="412.90" y1="467.20" x2="414.70" y2="467.20" stroke="#222" stroke-width="0.6" />
<text x="0.00" y="0.00" transform="translate(409.50,469.30) scale(0.925,1)" font-size="6.59" text-anchor="end" fill="#222" stroke="#222" stroke-width="0.13" font-weight="normal" font-style="normal" >−0.3</text>
<line x1="412.90" y1="474.20" x2="414.70" y2="474.20" stroke="#222" stroke-width="0.6" />
<text x="0.00" y="0.00" transform="translate(409.50,476.30) scale(0.925,1)" font-size="6.59" text-anchor="end" fill="#222" stroke="#222" stroke-width="0.13" font-weight="normal" font-style="normal" >−0.5</text>
<line x1="414.70" y1="446.20" x2="513.30" y2="446.20" stroke="#a8a8a8" stroke-width="0.6" />
<polyline points="414.70,446.20 415.70,442.42 417.10,438.71 418.60,438.29 420.00,439.20 421.40,438.29 423.00,438.99 424.80,438.71 427.20,438.50 428.70,438.50 430.60,439.69 433.50,441.58 436.30,443.40 441.50,446.41 449.20,452.22 458.80,458.87 468.50,465.73 474.20,469.02 480.00,470.49 483.10,473.50 487.70,473.99 491.10,473.78 494.60,475.81 501.00,478.12 502.70,473.99 504.40,476.30 506.10,472.87 507.30,469.37 507.90,459.01 508.40,446.20" fill="none" stroke="#5cb85c" stroke-width="0.75"/>
<text x="0.00" y="0.00" transform="translate(511.30,444.80) scale(0.925,1)" font-size="6.59" text-anchor="end" fill="#222" stroke="#222" stroke-width="0.13" font-weight="normal" font-style="normal" >NES = −1.62</text>
<line x1="415.30" y1="480.30" x2="415.30" y2="495.80" stroke="#444" stroke-width="0.75" />
<line x1="416.10" y1="480.30" x2="416.10" y2="495.80" stroke="#444" stroke-width="0.75" />
<line x1="416.90" y1="480.30" x2="416.90" y2="495.80" stroke="#444" stroke-width="0.75" />
<line x1="417.50" y1="480.30" x2="417.50" y2="495.80" stroke="#444" stroke-width="0.75" />
<line x1="419.30" y1="480.30" x2="419.30" y2="495.80" stroke="#444" stroke-width="0.75" />
<line x1="422.80" y1="480.30" x2="422.80" y2="495.80" stroke="#444" stroke-width="0.75" />
<line x1="423.50" y1="480.30" x2="423.50" y2="495.80" stroke="#444" stroke-width="0.75" />
<line x1="425.20" y1="480.30" x2="425.20" y2="495.80" stroke="#444" stroke-width="0.75" />
<line x1="427.70" y1="480.30" x2="427.70" y2="495.80" stroke="#444" stroke-width="0.75" />
<line x1="431.00" y1="480.30" x2="431.00" y2="495.80" stroke="#444" stroke-width="0.75" />
<line x1="435.00" y1="480.30" x2="435.00" y2="495.80" stroke="#444" stroke-width="0.75" />
<line x1="435.70" y1="480.30" x2="435.70" y2="495.80" stroke="#444" stroke-width="0.75" />
<line x1="437.60" y1="480.30" x2="437.60" y2="495.80" stroke="#444" stroke-width="0.75" />
<line x1="438.30" y1="480.30" x2="438.30" y2="495.80" stroke="#444" stroke-width="0.75" />
<line x1="441.80" y1="480.30" x2="441.80" y2="495.80" stroke="#111" stroke-width="0.75" />
<line x1="442.60" y1="480.30" x2="442.60" y2="495.80" stroke="#111" stroke-width="0.75" />
<line x1="443.20" y1="480.30" x2="443.20" y2="495.80" stroke="#111" stroke-width="0.75" />
<line x1="445.30" y1="480.30" x2="445.30" y2="495.80" stroke="#444" stroke-width="0.75" />
<line x1="450.70" y1="480.30" x2="450.70" y2="495.80" stroke="#444" stroke-width="0.75" />
<line x1="451.70" y1="480.30" x2="451.70" y2="495.80" stroke="#444" stroke-width="0.75" />
<line x1="453.60" y1="480.30" x2="453.60" y2="495.80" stroke="#444" stroke-width="0.75" />
<line x1="460.40" y1="480.30" x2="460.40" y2="495.80" stroke="#111" stroke-width="0.75" />
<line x1="461.50" y1="480.30" x2="461.50" y2="495.80" stroke="#111" stroke-width="0.75" />
<line x1="468.30" y1="480.30" x2="468.30" y2="495.80" stroke="#444" stroke-width="0.75" />
<line x1="471.20" y1="480.30" x2="471.20" y2="495.80" stroke="#444" stroke-width="0.75" />
<line x1="472.20" y1="480.30" x2="472.20" y2="495.80" stroke="#444" stroke-width="0.75" />
<line x1="473.20" y1="480.30" x2="473.20" y2="495.80" stroke="#444" stroke-width="0.75" />
<line x1="474.20" y1="480.30" x2="474.20" y2="495.80" stroke="#444" stroke-width="0.75" />
<line x1="475.20" y1="480.30" x2="475.20" y2="495.80" stroke="#444" stroke-width="0.75" />
<line x1="476.20" y1="480.30" x2="476.20" y2="495.80" stroke="#444" stroke-width="0.75" />
<line x1="480.00" y1="480.30" x2="480.00" y2="495.80" stroke="#777" stroke-width="0.75" />
<line x1="484.00" y1="480.30" x2="484.00" y2="495.80" stroke="#777" stroke-width="0.75" />
<line x1="485.00" y1="480.30" x2="485.00" y2="495.80" stroke="#777" stroke-width="0.75" />
<line x1="486.00" y1="480.30" x2="486.00" y2="495.80" stroke="#777" stroke-width="0.75" />
<line x1="490.00" y1="480.30" x2="490.00" y2="495.80" stroke="#777" stroke-width="0.75" />
<line x1="491.00" y1="480.30" x2="491.00" y2="495.80" stroke="#777" stroke-width="0.75" />
<line x1="494.80" y1="480.30" x2="494.80" y2="495.80" stroke="#777" stroke-width="0.75" />
<line x1="498.70" y1="480.30" x2="498.70" y2="495.80" stroke="#777" stroke-width="0.75" />
<line x1="502.60" y1="480.30" x2="502.60" y2="495.80" stroke="#777" stroke-width="0.75" />
<line x1="503.60" y1="480.30" x2="503.60" y2="495.80" stroke="#777" stroke-width="0.75" />
<line x1="506.30" y1="480.30" x2="506.30" y2="495.80" stroke="#111" stroke-width="0.75" />
<line x1="507.10" y1="480.30" x2="507.10" y2="495.80" stroke="#111" stroke-width="0.75" />
<line x1="507.90" y1="480.30" x2="507.90" y2="495.80" stroke="#111" stroke-width="0.75" />
<defs><linearGradient id="cb415" x1="0" x2="1"><stop offset="0" stop-color="#e02838"/><stop offset="0.32" stop-color="#e85868"/><stop offset="0.38" stop-color="#f0a8b0"/><stop offset="0.52" stop-color="#f0eef2"/><stop offset="0.64" stop-color="#c8cce4"/><stop offset="0.72" stop-color="#6070b8"/><stop offset="1" stop-color="#3848a0"/></linearGradient></defs>
<rect x="415.10" y="495.80" width="93.90" height="3.40" fill="url(#cb415)" />
<line x1="414.70" y1="495.80" x2="513.30" y2="495.80" stroke="#222" stroke-width="0.5" />
<text x="0.00" y="0.00" transform="translate(415.20,507.60) scale(0.925,1)" font-size="6.59" text-anchor="start" fill="#222" stroke="#222" stroke-width="0.13" font-weight="normal" font-style="normal" >S-S positively</text>
<text x="0.00" y="0.00" transform="translate(415.20,514.60) scale(0.925,1)" font-size="6.59" text-anchor="start" fill="#222" stroke="#222" stroke-width="0.13" font-weight="normal" font-style="normal" >correlated</text>
<text x="0.00" y="0.00" transform="translate(513.60,507.60) scale(0.925,1)" font-size="6.59" text-anchor="end" fill="#222" stroke="#222" stroke-width="0.13" font-weight="normal" font-style="normal" >S-S negatively</text>
<text x="0.00" y="0.00" transform="translate(513.60,514.60) scale(0.925,1)" font-size="6.59" text-anchor="end" fill="#222" stroke="#222" stroke-width="0.13" font-weight="normal" font-style="normal" >correlated</text>
<text x="7.30" y="545.70"  font-size="11.20" text-anchor="start" fill="#111" stroke="#111" stroke-width="0.2" font-weight="bold" font-style="normal" >H</text>
<line x1="47.50" y1="553.00" x2="47.50" y2="653.40" stroke="#222" stroke-width="0.8" />
<line x1="47.50" y1="653.40" x2="146.80" y2="653.40" stroke="#222" stroke-width="0.8" />
<line x1="45.50" y1="653.40" x2="47.50" y2="653.40" stroke="#222" stroke-width="0.6" />
<text x="0.00" y="0.00" transform="translate(42.50,655.50) scale(0.925,1)" font-size="6.59" text-anchor="end" fill="#222" stroke="#222" stroke-width="0.13" font-weight="normal" font-style="normal" >0</text>
<line x1="45.50" y1="633.72" x2="47.50" y2="633.72" stroke="#222" stroke-width="0.6" />
<text x="0.00" y="0.00" transform="translate(42.50,635.82) scale(0.925,1)" font-size="6.59" text-anchor="end" fill="#222" stroke="#222" stroke-width="0.13" font-weight="normal" font-style="normal" >20</text>
<line x1="45.50" y1="614.04" x2="47.50" y2="614.04" stroke="#222" stroke-width="0.6" />
<text x="0.00" y="0.00" transform="translate(42.50,616.14) scale(0.925,1)" font-size="6.59" text-anchor="end" fill="#222" stroke="#222" stroke-width="0.13" font-weight="normal" font-style="normal" >40</text>
<line x1="45.50" y1="594.36" x2="47.50" y2="594.36" stroke="#222" stroke-width="0.6" />
<text x="0.00" y="0.00" transform="translate(42.50,596.46) scale(0.925,1)" font-size="6.59" text-anchor="end" fill="#222" stroke="#222" stroke-width="0.13" font-weight="normal" font-style="normal" >60</text>
<line x1="45.50" y1="574.68" x2="47.50" y2="574.68" stroke="#222" stroke-width="0.6" />
<text x="0.00" y="0.00" transform="translate(42.50,576.78) scale(0.925,1)" font-size="6.59" text-anchor="end" fill="#222" stroke="#222" stroke-width="0.13" font-weight="normal" font-style="normal" >80</text>
<line x1="45.50" y1="555.00" x2="47.50" y2="555.00" stroke="#222" stroke-width="0.6" />
<text x="0.00" y="0.00" transform="translate(42.50,557.10) scale(0.925,1)" font-size="6.59" text-anchor="end" fill="#222" stroke="#222" stroke-width="0.13" font-weight="normal" font-style="normal" >100</text>
<text x="0.00" y="0.00"  font-size="6.59" text-anchor="middle" fill="#222" stroke="#222" stroke-width="0.13" font-weight="normal" font-style="normal" transform="translate(25,604.2) rotate(-90) scale(0.925,1)">% Aberrant events</text>
<rect x="58.00" y="646.22" width="19.00" height="7.18" fill="#c80a24" />
<rect x="58.00" y="642.77" width="19.00" height="3.44" fill="#f7be00" />
<rect x="58.00" y="610.60" width="19.00" height="32.18" fill="#29a8e0" />
<rect x="58.00" y="606.17" width="19.00" height="4.43" fill="#3aa648" />
<rect x="58.00" y="579.11" width="19.00" height="27.06" fill="#474c5f" />
<rect x="58.00" y="577.14" width="19.00" height="1.97" fill="#e0168c" />
<rect x="58.00" y="561.10" width="19.00" height="16.04" fill="#c8c8cc" />
<rect x="58.00" y="555.00" width="19.00" height="6.10" fill="#0e6650" />
<line x1="67.50" y1="653.20" x2="67.50" y2="655.00" stroke="#222" stroke-width="0.6" />
<text x="0.00" y="0.00" transform="translate(67.50,664.50) scale(0.925,1)" font-size="6.59" text-anchor="middle" fill="#222" stroke="#222" stroke-width="0.13" font-weight="normal" font-style="normal" >S-A</text>
<rect x="88.20" y="647.50" width="19.00" height="5.90" fill="#c80a24" />
<rect x="88.20" y="644.05" width="19.00" height="3.44" fill="#f7be00" />
<rect x="88.20" y="612.76" width="19.00" height="31.29" fill="#29a8e0" />
<rect x="88.20" y="607.55" width="19.00" height="5.22" fill="#3aa648" />
<rect x="88.20" y="581.96" width="19.00" height="25.58" fill="#474c5f" />
<rect x="88.20" y="579.60" width="19.00" height="2.36" fill="#e0168c" />
<rect x="88.20" y="561.40" width="19.00" height="18.20" fill="#c8c8cc" />
<rect x="88.20" y="555.00" width="19.00" height="6.40" fill="#0e6650" />
<line x1="97.70" y1="653.20" x2="97.70" y2="655.00" stroke="#222" stroke-width="0.6" />
<text x="0.00" y="0.00" transform="translate(97.70,664.50) scale(0.925,1)" font-size="6.59" text-anchor="middle" fill="#222" stroke="#222" stroke-width="0.13" font-weight="normal" font-style="normal" >S-R</text>
<rect x="118.20" y="646.51" width="19.00" height="6.89" fill="#c80a24" />
<rect x="118.20" y="642.67" width="19.00" height="3.84" fill="#f7be00" />
<rect x="118.20" y="608.14" width="19.00" height="34.54" fill="#29a8e0" />
<rect x="118.20" y="602.72" width="19.00" height="5.41" fill="#3aa648" />
<rect x="118.20" y="578.12" width="19.00" height="24.60" fill="#474c5f" />
<rect x="118.20" y="576.75" width="19.00" height="1.38" fill="#e0168c" />
<rect x="118.20" y="561.99" width="19.00" height="14.76" fill="#c8c8cc" />
<rect x="118.20" y="555.00" width="19.00" height="6.99" fill="#0e6650" />
<line x1="127.70" y1="653.20" x2="127.70" y2="655.00" stroke="#222" stroke-width="0.6" />
<text x="0.00" y="0.00" transform="translate(127.70,664.50) scale(0.925,1)" font-size="6.59" text-anchor="middle" fill="#222" stroke="#222" stroke-width="0.13" font-weight="normal" font-style="normal" >S-S</text>
<rect x="156.00" y="554.50" width="6.30" height="6.00" fill="#0e6650" />
<text x="0.00" y="0.00" transform="translate(164.80,559.60) scale(0.925,1)" font-size="6.59" text-anchor="start" fill="#222" stroke="#222" stroke-width="0.13" font-weight="normal" font-style="normal" >tutr</text>
<rect x="156.00" y="564.56" width="6.30" height="6.00" fill="#c8c8cc" />
<text x="0.00" y="0.00" transform="translate(164.80,569.66) scale(0.925,1)" font-size="6.59" text-anchor="start" fill="#222" stroke="#222" stroke-width="0.13" font-weight="normal" font-style="normal" >se</text>
<rect x="156.00" y="574.62" width="6.30" height="6.00" fill="#e0168c" />
<text x="0.00" y="0.00" transform="translate(164.80,579.72) scale(0.925,1)" font-size="6.59" text-anchor="start" fill="#222" stroke="#222" stroke-width="0.13" font-weight="normal" font-style="normal" >mxe</text>
<rect x="156.00" y="584.68" width="6.30" height="6.00" fill="#474c5f" />
<text x="0.00" y="0.00" transform="translate(164.80,589.78) scale(0.925,1)" font-size="6.59" text-anchor="start" fill="#222" stroke="#222" stroke-width="0.13" font-weight="normal" font-style="normal" >cj</text>
<rect x="156.00" y="594.74" width="6.30" height="6.00" fill="#3aa648" />
<text x="0.00" y="0.00" transform="translate(164.80,599.84) scale(0.925,1)" font-size="6.59" text-anchor="start" fill="#222" stroke="#222" stroke-width="0.13" font-weight="normal" font-style="normal" >ri</text>
<rect x="156.00" y="604.80" width="6.30" height="6.00" fill="#29a8e0" />
<text x="0.00" y="0.00" transform="translate(164.80,609.90) scale(0.925,1)" font-size="6.59" text-anchor="start" fill="#222" stroke="#222" stroke-width="0.13" font-weight="normal" font-style="normal" >ci</text>
<rect x="156.00" y="614.86" width="6.30" height="6.00" fill="#f7be00" />
<text x="0.00" y="0.00" transform="translate(164.80,619.96) scale(0.925,1)" font-size="6.59" text-anchor="start" fill="#222" stroke="#222" stroke-width="0.13" font-weight="normal" font-style="normal" >a5ss</text>
<rect x="156.00" y="624.92" width="6.30" height="6.00" fill="#c80a24" />
<text x="0.00" y="0.00" transform="translate(164.80,630.02) scale(0.925,1)" font-size="6.59" text-anchor="start" fill="#222" stroke="#222" stroke-width="0.13" font-weight="normal" font-style="normal" >a3ss</text>
<text x="193.50" y="545.50"  font-size="11.20" text-anchor="start" fill="#111" stroke="#111" stroke-width="0.2" font-weight="bold" font-style="normal" >I</text>
<rect x="216.70" y="558.70" width="29.50" height="28.50" fill="#e0281c" />
<rect x="218.70" y="560.70" width="25.50" height="24.50" fill="#dc2418" />
<rect x="246.20" y="558.70" width="29.50" height="28.50" fill="#e75a58" />
<rect x="246.70" y="559.20" width="28.50" height="27.50" fill="none" stroke="#ec7472" stroke-width="0.5"/>
<rect x="275.70" y="558.70" width="29.50" height="28.50" fill="#e75a58" />
<rect x="276.20" y="559.20" width="28.50" height="27.50" fill="none" stroke="#ec7472" stroke-width="0.5"/>
<rect x="246.20" y="587.20" width="29.50" height="28.50" fill="#e0281c" />
<rect x="248.20" y="589.20" width="25.50" height="24.50" fill="#dc2418" />
<rect x="275.70" y="587.20" width="29.50" height="28.50" fill="#e75a58" />
<rect x="276.20" y="587.70" width="28.50" height="27.50" fill="none" stroke="#ec7472" stroke-width="0.5"/>
<rect x="275.70" y="615.70" width="29.50" height="28.50" fill="#e0281c" />
<rect x="277.70" y="617.70" width="25.50" height="24.50" fill="#dc2418" />
<rect x="216.7" y="558.7" width="88.5" height="85.5" fill="none" stroke="#222" stroke-width="0.8"/>
<text x="0.00" y="0.00" transform="translate(231.45,575.25) scale(0.925,1)" font-size="6.59" text-anchor="middle" fill="#4a1410" stroke="#4a1410" stroke-width="0.13" font-weight="normal" font-style="normal" >1.000</text>
<text x="0.00" y="0.00" transform="translate(260.95,603.75) scale(0.925,1)" font-size="6.59" text-anchor="middle" fill="#4a1410" stroke="#4a1410" stroke-width="0.13" font-weight="normal" font-style="normal" >1.000</text>
<text x="0.00" y="0.00" transform="translate(290.45,632.25) scale(0.925,1)" font-size="6.59" text-anchor="middle" fill="#4a1410" stroke="#4a1410" stroke-width="0.13" font-weight="normal" font-style="normal" >1.000</text>
<text x="0.00" y="0.00" transform="translate(260.95,571.65) scale(0.925,1)" font-size="5.40" text-anchor="middle" fill="#4a1410" stroke="#4a1410" stroke-width="0.13" font-weight="normal" font-style="normal" >****</text>
<text x="0.00" y="0.00" transform="translate(260.95,579.15) scale(0.925,1)" font-size="6.59" text-anchor="middle" fill="#4a1410" stroke="#4a1410" stroke-width="0.13" font-weight="normal" font-style="normal" >0.689</text>
<text x="0.00" y="0.00" transform="translate(290.45,571.65) scale(0.925,1)" font-size="5.40" text-anchor="middle" fill="#4a1410" stroke="#4a1410" stroke-width="0.13" font-weight="normal" font-style="normal" >****</text>
<text x="0.00" y="0.00" transform="translate(290.45,579.15) scale(0.925,1)" font-size="6.59" text-anchor="middle" fill="#4a1410" stroke="#4a1410" stroke-width="0.13" font-weight="normal" font-style="normal" >0.677</text>
<text x="0.00" y="0.00" transform="translate(290.45,600.15) scale(0.925,1)" font-size="5.40" text-anchor="middle" fill="#4a1410" stroke="#4a1410" stroke-width="0.13" font-weight="normal" font-style="normal" >****</text>
<text x="0.00" y="0.00" transform="translate(290.45,607.65) scale(0.925,1)" font-size="6.59" text-anchor="middle" fill="#4a1410" stroke="#4a1410" stroke-width="0.13" font-weight="normal" font-style="normal" >0.683</text>
<line x1="231.45" y1="556.70" x2="231.45" y2="558.70" stroke="#222" stroke-width="0.6" />
<text x="0.00" y="0.00" transform="translate(231.45,551.00) scale(0.925,1)" font-size="6.59" text-anchor="middle" fill="#222" stroke="#222" stroke-width="0.13" font-weight="normal" font-style="normal" >S-A</text>
<line x1="214.70" y1="572.95" x2="216.70" y2="572.95" stroke="#222" stroke-width="0.6" />
<text x="0.00" y="0.00" transform="translate(212.20,575.05) scale(0.925,1)" font-size="6.59" text-anchor="end" fill="#222" stroke="#222" stroke-width="0.13" font-weight="normal" font-style="normal" >S-A</text>
<line x1="260.95" y1="556.70" x2="260.95" y2="558.70" stroke="#222" stroke-width="0.6" />
<text x="0.00" y="0.00" transform="translate(260.95,551.00) scale(0.925,1)" font-size="6.59" text-anchor="middle" fill="#222" stroke="#222" stroke-width="0.13" font-weight="normal" font-style="normal" >S-R</text>
<line x1="214.70" y1="601.45" x2="216.70" y2="601.45" stroke="#222" stroke-width="0.6" />
<text x="0.00" y="0.00" transform="translate(212.20,603.55) scale(0.925,1)" font-size="6.59" text-anchor="end" fill="#222" stroke="#222" stroke-width="0.13" font-weight="normal" font-style="normal" >S-R</text>
<line x1="290.45" y1="556.70" x2="290.45" y2="558.70" stroke="#222" stroke-width="0.6" />
<text x="0.00" y="0.00" transform="translate(290.45,551.00) scale(0.925,1)" font-size="6.59" text-anchor="middle" fill="#222" stroke="#222" stroke-width="0.13" font-weight="normal" font-style="normal" >S-S</text>
<line x1="214.70" y1="629.95" x2="216.70" y2="629.95" stroke="#222" stroke-width="0.6" />
<text x="0.00" y="0.00" transform="translate(212.20,632.05) scale(0.925,1)" font-size="6.59" text-anchor="end" fill="#222" stroke="#222" stroke-width="0.13" font-weight="normal" font-style="normal" >S-S</text>
<defs><linearGradient id="sp" x1="0" x2="1"><stop offset="0" stop-color="#f2b4b4"/><stop offset="0.5" stop-color="#e86464"/><stop offset="1" stop-color="#e01818"/></linearGradient></defs>
<rect x="240.50" y="648.30" width="69.30" height="7.00" fill="url(#sp)" stroke="#888" stroke-width="0.4"/>
<line x1="260.50" y1="648.30" x2="260.50" y2="655.30" stroke="#a03030" stroke-width="0.4" />
<line x1="284.30" y1="648.30" x2="284.30" y2="655.30" stroke="#a03030" stroke-width="0.4" />
<text x="0.00" y="0.00" transform="translate(205.00,654.00) scale(0.925,1)" font-size="6.59" text-anchor="start" fill="#222" stroke="#222" stroke-width="0.13" font-weight="normal" font-style="normal" >Spearman r</text>
<text x="323.00" y="545.50"  font-size="11.20" text-anchor="start" fill="#111" stroke="#111" stroke-width="0.2" font-weight="bold" font-style="normal" >J</text>
<line x1="362.50" y1="553.00" x2="362.50" y2="653.90" stroke="#222" stroke-width="0.8" />
<line x1="362.50" y1="653.90" x2="418.00" y2="653.90" stroke="#222" stroke-width="0.8" />
<line x1="360.50" y1="653.90" x2="362.50" y2="653.90" stroke="#222" stroke-width="0.6" />
<text x="0.00" y="0.00" transform="translate(357.50,656.00) scale(0.925,1)" font-size="6.59" text-anchor="end" fill="#222" stroke="#222" stroke-width="0.13" font-weight="normal" font-style="normal" >0</text>
<line x1="360.50" y1="634.18" x2="362.50" y2="634.18" stroke="#222" stroke-width="0.6" />
<text x="0.00" y="0.00" transform="translate(357.50,636.28) scale(0.925,1)" font-size="6.59" text-anchor="end" fill="#222" stroke="#222" stroke-width="0.13" font-weight="normal" font-style="normal" >20</text>
<line x1="360.50" y1="614.46" x2="362.50" y2="614.46" stroke="#222" stroke-width="0.6" />
<text x="0.00" y="0.00" transform="translate(357.50,616.56) scale(0.925,1)" font-size="6.59" text-anchor="end" fill="#222" stroke="#222" stroke-width="0.13" font-weight="normal" font-style="normal" >40</text>
<line x1="360.50" y1="594.74" x2="362.50" y2="594.74" stroke="#222" stroke-width="0.6" />
<text x="0.00" y="0.00" transform="translate(357.50,596.84) scale(0.925,1)" font-size="6.59" text-anchor="end" fill="#222" stroke="#222" stroke-width="0.13" font-weight="normal" font-style="normal" >60</text>
<line x1="360.50" y1="575.02" x2="362.50" y2="575.02" stroke="#222" stroke-width="0.6" />
<text x="0.00" y="0.00" transform="translate(357.50,577.12) scale(0.925,1)" font-size="6.59" text-anchor="end" fill="#222" stroke="#222" stroke-width="0.13" font-weight="normal" font-style="normal" >80</text>
<line x1="360.50" y1="555.30" x2="362.50" y2="555.30" stroke="#222" stroke-width="0.6" />
<text x="0.00" y="0.00" transform="translate(357.50,557.40) scale(0.925,1)" font-size="6.59" text-anchor="end" fill="#222" stroke="#222" stroke-width="0.13" font-weight="normal" font-style="normal" >100</text>
<line x1="361.30" y1="644.04" x2="362.50" y2="644.04" stroke="#222" stroke-width="0.5" />
<line x1="361.30" y1="624.32" x2="362.50" y2="624.32" stroke="#222" stroke-width="0.5" />
<line x1="361.30" y1="604.60" x2="362.50" y2="604.60" stroke="#222" stroke-width="0.5" />
<line x1="361.30" y1="584.88" x2="362.50" y2="584.88" stroke="#222" stroke-width="0.5" />
<line x1="361.30" y1="565.16" x2="362.50" y2="565.16" stroke="#222" stroke-width="0.5" />
<text x="0.00" y="0.00"  font-size="6.59" text-anchor="middle" fill="#222" stroke="#222" stroke-width="0.13" font-weight="normal" font-style="normal" transform="translate(338.5,604.6) rotate(-90) scale(0.925,1)">% Genes with A3SS</text>
<rect x="371.10" y="595.73" width="15.60" height="58.17" fill="#c80a24" />
<rect x="371.10" y="587.35" width="15.60" height="8.38" fill="#f5b800" />
<rect x="371.10" y="555.30" width="15.60" height="32.05" fill="#29a8e0" />
<line x1="378.90" y1="653.90" x2="378.90" y2="655.70" stroke="#222" stroke-width="0.6" />
<text x="0.00" y="0.00" transform="translate(378.90,665.20) scale(0.925,1)" font-size="6.59" text-anchor="middle" fill="#222" stroke="#222" stroke-width="0.13" font-weight="normal" font-style="normal" >S-R</text>
<rect x="395.40" y="593.75" width="15.60" height="60.15" fill="#c80a24" />
<rect x="395.40" y="582.91" width="15.60" height="10.85" fill="#f5b800" />
<rect x="395.40" y="555.30" width="15.60" height="27.61" fill="#29a8e0" />
<line x1="403.20" y1="653.90" x2="403.20" y2="655.70" stroke="#222" stroke-width="0.6" />
<text x="0.00" y="0.00" transform="translate(403.20,665.20) scale(0.925,1)" font-size="6.59" text-anchor="middle" fill="#222" stroke="#222" stroke-width="0.13" font-weight="normal" font-style="normal" >S-S</text>
<rect x="424.80" y="556.40" width="6.00" height="6.00" fill="#29a8e0" />
<text x="0.00" y="0.00" transform="translate(434.00,561.50) scale(0.925,1)" font-size="6.59" text-anchor="start" fill="#222" stroke="#222" stroke-width="0.13" font-weight="normal" font-style="normal" >Unique</text>
<rect x="424.80" y="566.50" width="6.00" height="6.00" fill="#f5b800" />
<text x="0.00" y="0.00" transform="translate(434.00,571.60) scale(0.925,1)" font-size="6.59" text-anchor="start" fill="#222" stroke="#222" stroke-width="0.13" font-weight="normal" font-style="normal" >Shared between HR only</text>
<rect x="424.80" y="576.60" width="6.00" height="6.00" fill="#c80a24" />
<text x="0.00" y="0.00" transform="translate(434.00,581.70) scale(0.925,1)" font-size="6.59" text-anchor="start" fill="#222" stroke="#222" stroke-width="0.13" font-weight="normal" font-style="normal" >Shared with S-A</text>
<rect x="0.5" y="0.5" width="519" height="672" fill="none" stroke="#555" stroke-width="1"/>
</svg>
</body></html>
